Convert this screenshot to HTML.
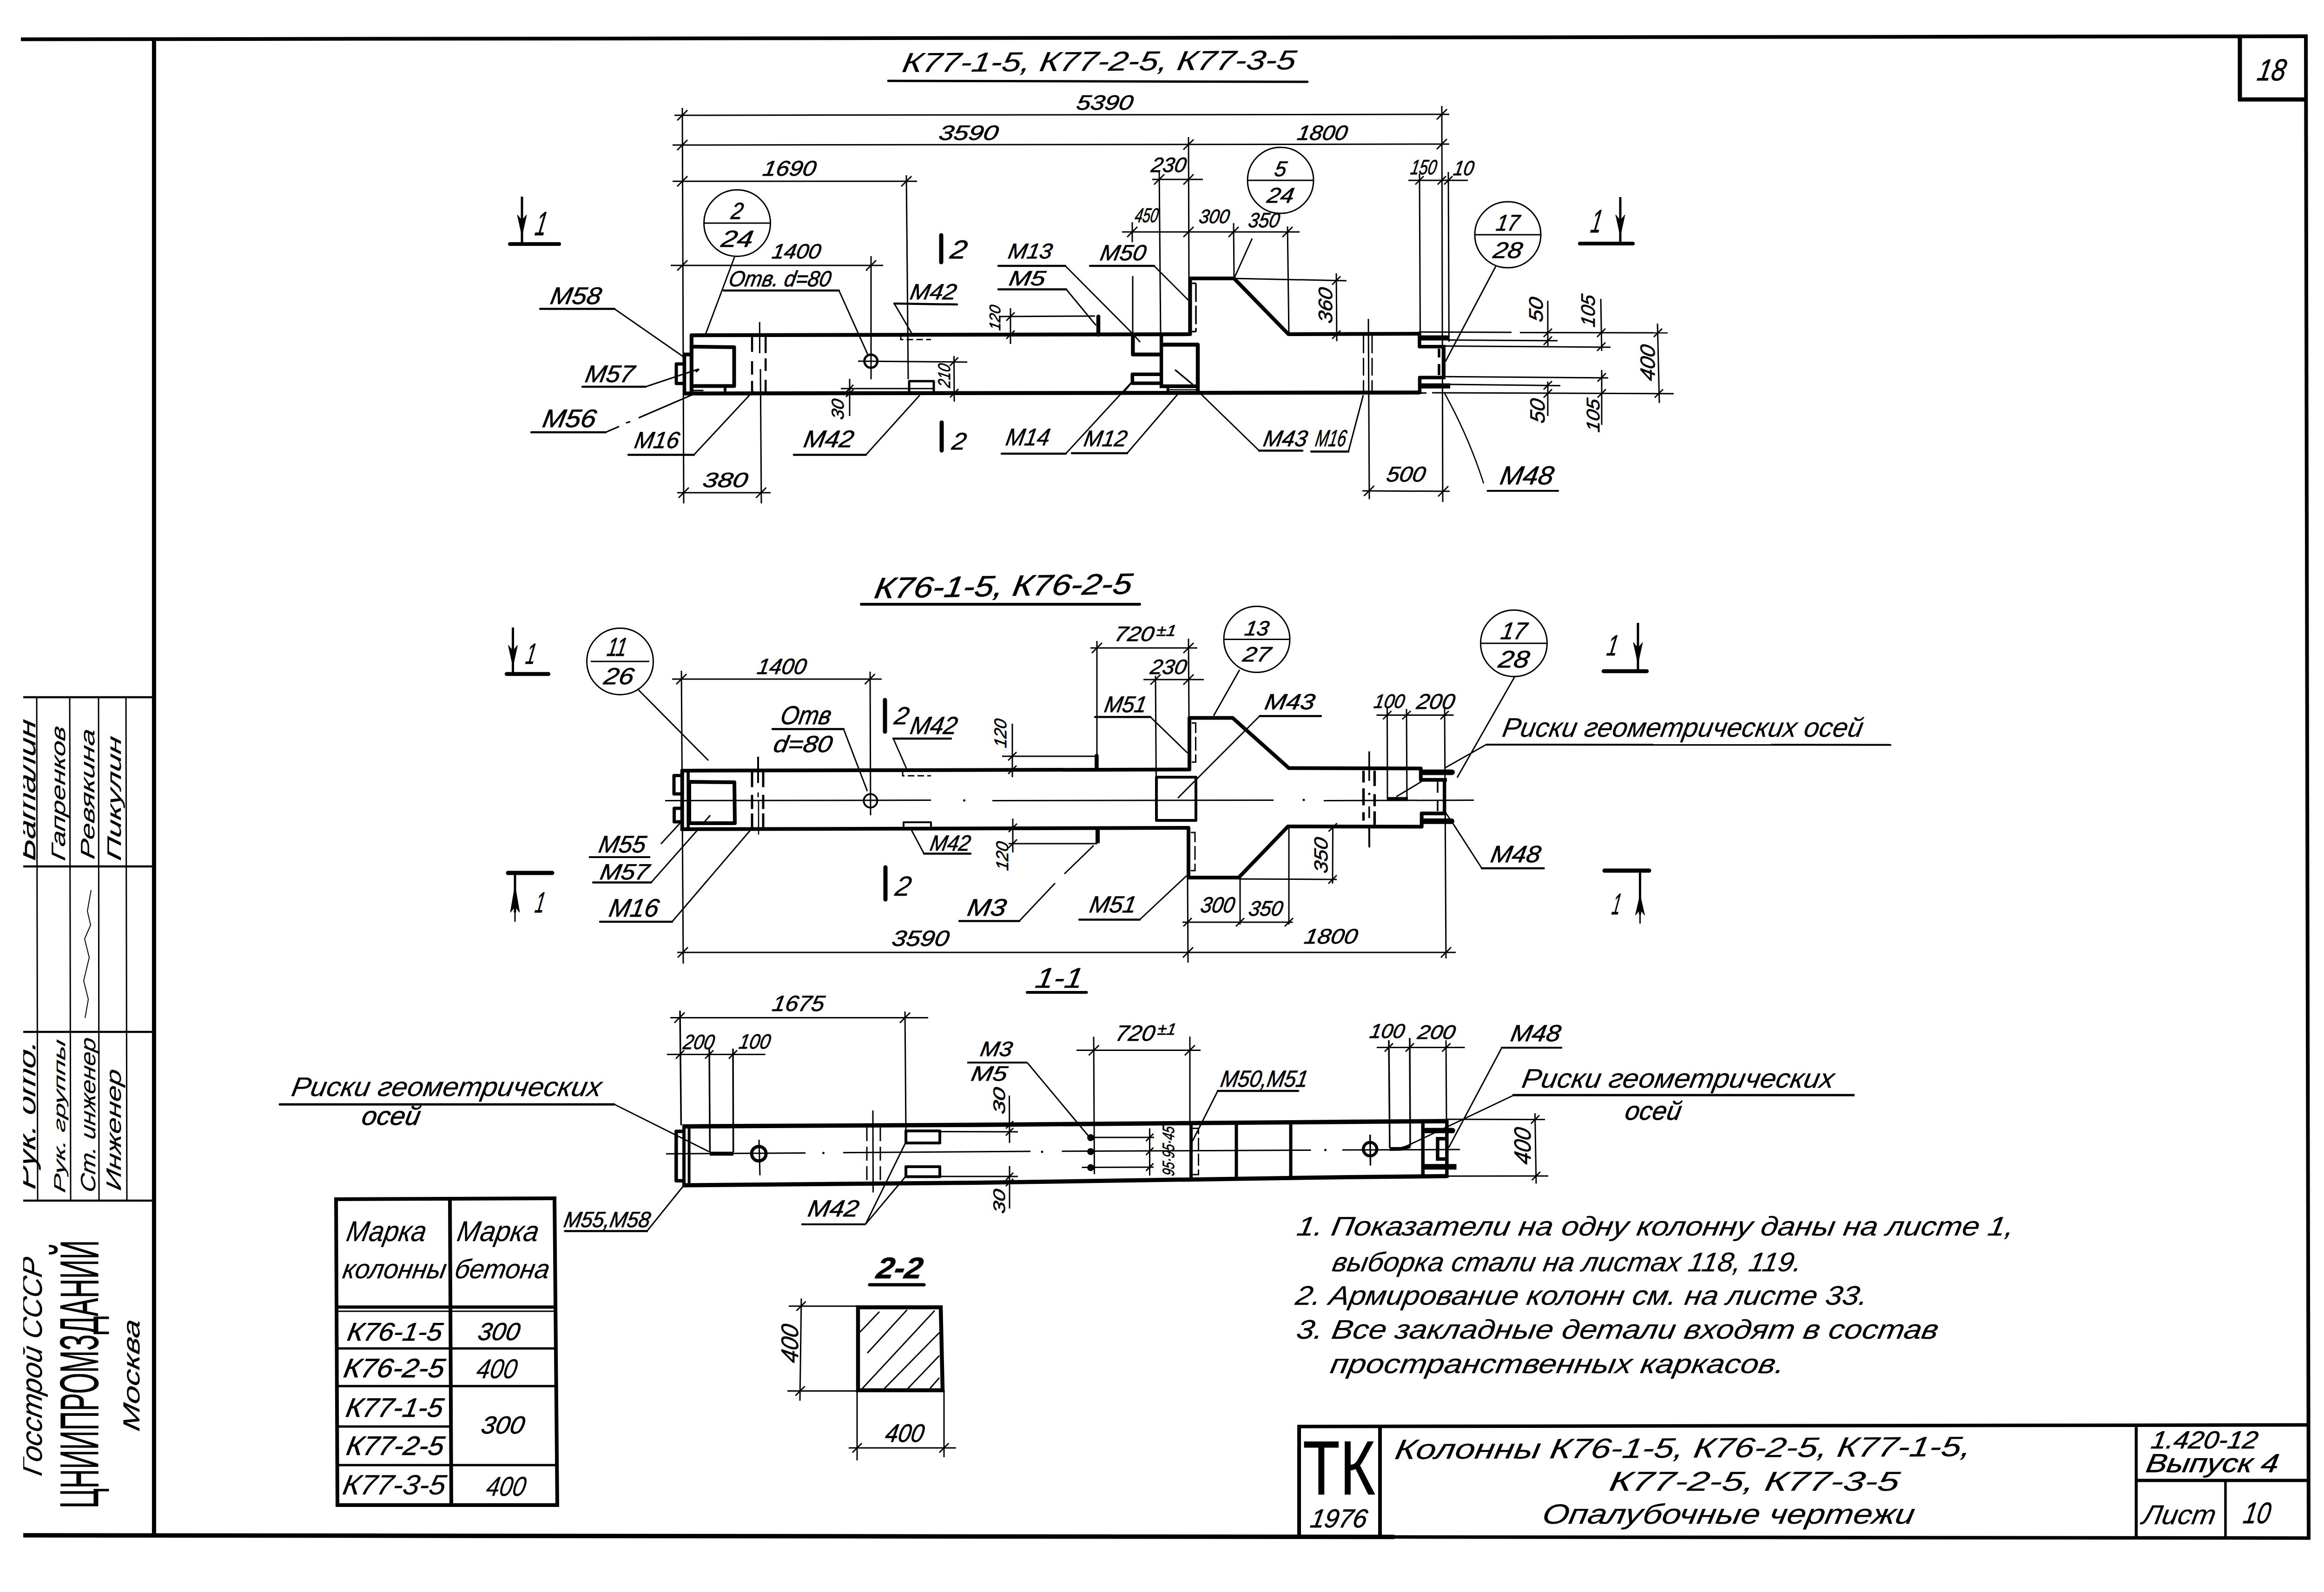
<!DOCTYPE html>
<html><head><meta charset="utf-8"><title>1.420-12 sheet 10</title>
<style>
html,body{margin:0;padding:0;background:#fff;}
body{width:5009px;height:3425px;overflow:hidden;}
svg{display:block;}
svg text{font-family:"Liberation Sans",sans-serif;font-style:italic;fill:#000;stroke:#000;stroke-width:0.8px;}
svg line,svg path,svg circle{stroke:#000;}
</style></head><body>
<svg width="5009" height="3425" viewBox="0 0 5009 3425">
<rect x="0" y="0" width="5009" height="3425" fill="#fff" stroke="none"/>
<line x1="45.0" y1="84.5" x2="4965.0" y2="78.0" stroke-width="8" stroke-linecap="butt"/>
<line x1="331.4" y1="82.0" x2="331.4" y2="3305.0" stroke-width="9" stroke-linecap="butt"/>
<line x1="4961.0" y1="76.0" x2="4967.0" y2="3312.0" stroke-width="8" stroke-linecap="butt"/>
<line x1="50.0" y1="3303.0" x2="3000.0" y2="3306.6" stroke-width="9.5" stroke-linecap="butt"/>
<line x1="2990.0" y1="3306.6" x2="4970.0" y2="3309.0" stroke-width="7.5" stroke-linecap="butt"/>
<line x1="4819.0" y1="78.0" x2="4819.0" y2="216.0" stroke-width="9" stroke-linecap="butt"/>
<line x1="4815.0" y1="214.0" x2="4962.0" y2="214.0" stroke-width="9" stroke-linecap="butt"/>
<text x="0" y="0" font-size="65.6" textLength="60.4" lengthAdjust="spacingAndGlyphs" style="stroke-width:0.80px;" transform="translate(4854.0 172.5) rotate(0) skewX(-10)">18</text>
<line x1="50.0" y1="1500.0" x2="331.0" y2="1500.0" stroke-width="4.5" stroke-linecap="butt"/>
<line x1="50.0" y1="1864.0" x2="331.0" y2="1864.0" stroke-width="4.5" stroke-linecap="butt"/>
<line x1="50.0" y1="2220.0" x2="331.0" y2="2220.0" stroke-width="4.5" stroke-linecap="butt"/>
<line x1="50.0" y1="2583.0" x2="331.0" y2="2583.0" stroke-width="4.5" stroke-linecap="butt"/>
<line x1="79.0" y1="1500.0" x2="81.0" y2="2583.0" stroke-width="3" stroke-linecap="butt"/>
<line x1="150.0" y1="1500.0" x2="152.0" y2="2583.0" stroke-width="3" stroke-linecap="butt"/>
<line x1="212.0" y1="1500.0" x2="213.0" y2="2583.0" stroke-width="3" stroke-linecap="butt"/>
<line x1="271.0" y1="1500.0" x2="273.0" y2="2583.0" stroke-width="3" stroke-linecap="butt"/>
<clipPath id="c0"><rect x="50" y="1400" width="300" height="2000"/></clipPath><g clip-path="url(#c0)">
<text x="0" y="0" font-size="55.9" textLength="303.4" lengthAdjust="spacingAndGlyphs" style="stroke-width:0.30px;" transform="translate(76.0 1853.0) rotate(-90) skewX(-10)">Баталин</text>
<text x="0" y="0" font-size="41.9" textLength="288.8" lengthAdjust="spacingAndGlyphs" style="stroke-width:0.30px;" transform="translate(140.0 1853.0) rotate(-90) skewX(-10)">Гапренков</text>
<text x="0" y="0" font-size="41.9" textLength="279.8" lengthAdjust="spacingAndGlyphs" style="stroke-width:0.30px;" transform="translate(203.0 1850.0) rotate(-90) skewX(-10)">Ревякина</text>
<text x="0" y="0" font-size="41.9" textLength="266.8" lengthAdjust="spacingAndGlyphs" style="stroke-width:0.30px;" transform="translate(260.0 1853.0) rotate(-90) skewX(-10)">Пикулин</text>
<path d="M183.0 2190.0 L190.0 2150.0 L180.0 2110.0 L192.0 2060.0 L182.0 2020.0 L195.0 1990.0 L188.0 1960.0 L196.0 1915.0" fill="none" stroke-width="2" stroke-linejoin="round" stroke-linecap="butt"/>
<text x="0" y="0" font-size="55.9" textLength="319.4" lengthAdjust="spacingAndGlyphs" style="stroke-width:0.30px;" transform="translate(76.0 2560.0) rotate(-90) skewX(-10)">Рук. отд.</text>
<text x="0" y="0" font-size="34.0" textLength="328.6" lengthAdjust="spacingAndGlyphs" style="stroke-width:0.30px;" transform="translate(140.0 2567.0) rotate(-90) skewX(-10)">Рук. группы</text>
<text x="0" y="0" font-size="44.7" textLength="332.5" lengthAdjust="spacingAndGlyphs" style="stroke-width:0.30px;" transform="translate(205.0 2567.0) rotate(-90) skewX(-10)">Ст. инженер</text>
<text x="0" y="0" font-size="44.7" textLength="260.5" lengthAdjust="spacingAndGlyphs" style="stroke-width:0.30px;" transform="translate(260.0 2563.0) rotate(-90) skewX(-10)">Инженер</text>
<text x="0" y="0" font-size="62.0" textLength="467.7" lengthAdjust="spacingAndGlyphs" style="stroke-width:0.30px;" transform="translate(90.0 3177.0) rotate(-90) skewX(-10)">Госстрой СССР</text>
</g>
<text x="0" y="0" font-size="117.3" textLength="577.0" lengthAdjust="spacingAndGlyphs" style="stroke-width:0.80px;font-style:normal;" transform="translate(211.0 3245.0) rotate(-90) skewX(0)">ЦНИИПРОМЗДАНИЙ</text>
<text x="0" y="0" font-size="50.0" textLength="239.9" lengthAdjust="spacingAndGlyphs" style="stroke-width:0.30px;" transform="translate(300.0 3081.0) rotate(-90) skewX(-10)">Москва</text>
<line x1="2791.0" y1="3069.0" x2="4967.0" y2="3065.5" stroke-width="7.5" stroke-linecap="butt"/>
<line x1="2795.0" y1="3066.0" x2="2795.0" y2="3306.0" stroke-width="8" stroke-linecap="butt"/>
<line x1="2969.0" y1="3068.0" x2="2969.0" y2="3306.0" stroke-width="8" stroke-linecap="butt"/>
<line x1="4596.0" y1="3066.0" x2="4596.0" y2="3309.0" stroke-width="6.5" stroke-linecap="butt"/>
<line x1="4596.0" y1="3185.0" x2="4967.0" y2="3185.0" stroke-width="7" stroke-linecap="butt"/>
<line x1="4788.0" y1="3185.0" x2="4788.0" y2="3309.0" stroke-width="5.5" stroke-linecap="butt"/>
<text x="0" y="0" font-size="164.8" textLength="156.0" lengthAdjust="spacingAndGlyphs" style="stroke-width:0.80px;font-style:normal;" transform="translate(2803.0 3215.0) rotate(0) skewX(0)">ТК</text>
<text x="0" y="0" font-size="55.9" textLength="121.4" lengthAdjust="spacingAndGlyphs" style="stroke-width:0.80px;" transform="translate(2817.0 3286.0) rotate(0) skewX(-10)">1976</text>
<text x="0" y="0" font-size="60.0" textLength="1238.9" lengthAdjust="spacingAndGlyphs" style="stroke-width:0.30px;" transform="translate(2999.0 3139.0) rotate(-0.3) skewX(-10)">Колонны К76-1-5, К76-2-5, К77-1-5,</text>
<text x="0" y="0" font-size="58.7" textLength="623.1" lengthAdjust="spacingAndGlyphs" style="stroke-width:0.30px;" transform="translate(3460.0 3207.0) rotate(0) skewX(-10)">К77-2-5, К77-3-5</text>
<text x="0" y="0" font-size="60.0" textLength="799.9" lengthAdjust="spacingAndGlyphs" style="stroke-width:0.30px;" transform="translate(3316.0 3278.0) rotate(0) skewX(-10)">Опалубочные чертежи</text>
<text x="0" y="0" font-size="53.1" textLength="228.6" lengthAdjust="spacingAndGlyphs" style="stroke-width:0.80px;" transform="translate(4626.0 3116.0) rotate(0) skewX(-10)">1.420-12</text>
<text x="0" y="0" font-size="55.9" textLength="284.4" lengthAdjust="spacingAndGlyphs" style="stroke-width:0.80px;" transform="translate(4615.0 3167.0) rotate(0) skewX(-10)">Выпуск 4</text>
<text x="0" y="0" font-size="58.7" textLength="157.1" lengthAdjust="spacingAndGlyphs" style="stroke-width:0.30px;" transform="translate(4607.0 3279.0) rotate(0) skewX(-10)">Лист</text>
<text x="0" y="0" font-size="64.2" textLength="57.5" lengthAdjust="spacingAndGlyphs" style="stroke-width:0.80px;" transform="translate(4824.0 3277.0) rotate(0) skewX(-10)">10</text>
<line x1="723.0" y1="2576.0" x2="726.0" y2="3242.0" stroke-width="8" stroke-linecap="butt"/>
<line x1="968.0" y1="2580.0" x2="971.0" y2="3240.0" stroke-width="8" stroke-linecap="butt"/>
<line x1="1193.0" y1="2576.0" x2="1199.0" y2="3242.0" stroke-width="8" stroke-linecap="butt"/>
<line x1="719.0" y1="2580.0" x2="1197.0" y2="2578.0" stroke-width="8" stroke-linecap="butt"/>
<line x1="722.0" y1="3238.0" x2="1203.0" y2="3238.0" stroke-width="8" stroke-linecap="butt"/>
<line x1="722.0" y1="2812.0" x2="1197.0" y2="2812.0" stroke-width="7" stroke-linecap="butt"/>
<line x1="722.0" y1="2821.0" x2="1197.0" y2="2821.0" stroke-width="3" stroke-linecap="butt"/>
<line x1="724.0" y1="2901.0" x2="1197.0" y2="2901.0" stroke-width="5" stroke-linecap="butt"/>
<line x1="724.0" y1="2982.0" x2="1198.0" y2="2982.0" stroke-width="5" stroke-linecap="butt"/>
<line x1="724.0" y1="3069.0" x2="970.0" y2="3069.0" stroke-width="5" stroke-linecap="butt"/>
<line x1="724.0" y1="3152.0" x2="1199.0" y2="3152.0" stroke-width="5" stroke-linecap="butt"/>
<text x="0" y="0" font-size="61.5" textLength="170.8" lengthAdjust="spacingAndGlyphs" style="stroke-width:0.30px;" transform="translate(743.0 2670.0) rotate(0) skewX(-10)">Марка</text>
<text x="0" y="0" font-size="58.0" textLength="222.1" lengthAdjust="spacingAndGlyphs" style="stroke-width:0.30px;" transform="translate(735.0 2750.0) rotate(0) skewX(-10)">колонны</text>
<text x="0" y="0" font-size="61.5" textLength="174.8" lengthAdjust="spacingAndGlyphs" style="stroke-width:0.30px;" transform="translate(981.0 2670.0) rotate(0) skewX(-10)">Марка</text>
<text x="0" y="0" font-size="58.0" textLength="203.1" lengthAdjust="spacingAndGlyphs" style="stroke-width:0.30px;" transform="translate(976.0 2750.0) rotate(0) skewX(-10)">бетона</text>
<text x="0" y="0" font-size="54.5" textLength="203.5" lengthAdjust="spacingAndGlyphs" style="stroke-width:0.80px;" transform="translate(745.0 2884.0) rotate(0) skewX(-10)">К76-1-5</text>
<text x="0" y="0" font-size="53.1" textLength="89.6" lengthAdjust="spacingAndGlyphs" style="stroke-width:0.80px;" transform="translate(1026.0 2883.0) rotate(0) skewX(-10)">300</text>
<text x="0" y="0" font-size="57.3" textLength="216.2" lengthAdjust="spacingAndGlyphs" style="stroke-width:0.80px;" transform="translate(737.0 2963.0) rotate(0) skewX(-10)">К76-2-5</text>
<text x="0" y="0" font-size="58.7" textLength="86.1" lengthAdjust="spacingAndGlyphs" style="stroke-width:0.30px;" transform="translate(1023.0 2965.0) rotate(0) skewX(-10)">400</text>
<text x="0" y="0" font-size="57.3" textLength="208.2" lengthAdjust="spacingAndGlyphs" style="stroke-width:0.80px;" transform="translate(742.0 3048.0) rotate(0) skewX(-10)">К77-1-5</text>
<text x="0" y="0" font-size="53.1" textLength="92.6" lengthAdjust="spacingAndGlyphs" style="stroke-width:0.80px;" transform="translate(1033.0 3084.0) rotate(0) skewX(-10)">300</text>
<text x="0" y="0" font-size="57.3" textLength="209.2" lengthAdjust="spacingAndGlyphs" style="stroke-width:0.80px;" transform="translate(743.0 3130.0) rotate(0) skewX(-10)">К77-2-5</text>
<text x="0" y="0" font-size="60.1" textLength="220.9" lengthAdjust="spacingAndGlyphs" style="stroke-width:0.30px;" transform="translate(735.0 3215.0) rotate(0) skewX(-10)">К77-3-5</text>
<text x="0" y="0" font-size="58.7" textLength="84.1" lengthAdjust="spacingAndGlyphs" style="stroke-width:0.30px;" transform="translate(1044.0 3218.0) rotate(0) skewX(-10)">400</text>
<text x="0" y="0" font-size="58.0" textLength="1542.1" lengthAdjust="spacingAndGlyphs" style="stroke-width:0.30px;" transform="translate(2788.0 2657.5) rotate(0) skewX(-10)">1. Показатели на одну колонну даны на листе 1,</text>
<text x="0" y="0" font-size="58.0" textLength="1009.1" lengthAdjust="spacingAndGlyphs" style="stroke-width:0.30px;" transform="translate(2864.0 2735.0) rotate(0) skewX(-10)">выборка стали на листах 118, 119.</text>
<text x="0" y="0" font-size="58.0" textLength="1230.1" lengthAdjust="spacingAndGlyphs" style="stroke-width:0.30px;" transform="translate(2785.0 2807.0) rotate(0) skewX(-10)">2. Армирование колонн см. на листе 33.</text>
<text x="0" y="0" font-size="58.0" textLength="1380.1" lengthAdjust="spacingAndGlyphs" style="stroke-width:0.30px;" transform="translate(2787.0 2880.0) rotate(0) skewX(-10)">3. Все закладные детали входят в состав</text>
<text x="0" y="0" font-size="58.0" textLength="976.1" lengthAdjust="spacingAndGlyphs" style="stroke-width:0.30px;" transform="translate(2860.0 2954.0) rotate(0) skewX(-10)">пространственных каркасов.</text>
<text x="0" y="0" font-size="58.7" textLength="846.1" lengthAdjust="spacingAndGlyphs" style="stroke-width:0.30px;" transform="translate(1939.0 155.0) rotate(-0.4) skewX(-10)">К77-1-5, К77-2-5, К77-3-5</text>
<line x1="1911.0" y1="174.0" x2="2813.0" y2="176.0" stroke-width="5" stroke-linecap="round"/>
<line x1="1451.0" y1="248.0" x2="3118.0" y2="246.0" stroke-width="3" stroke-linecap="butt"/>
<text x="0" y="0" font-size="44.7" textLength="121.5" lengthAdjust="spacingAndGlyphs" style="stroke-width:0.80px;" transform="translate(2314.0 236.0) rotate(0) skewX(-10)">5390</text>
<line x1="1447.0" y1="312.0" x2="3118.0" y2="310.0" stroke-width="3" stroke-linecap="butt"/>
<text x="0" y="0" font-size="44.7" textLength="127.5" lengthAdjust="spacingAndGlyphs" style="stroke-width:0.80px;" transform="translate(2018.0 301.0) rotate(0) skewX(-10)">3590</text>
<text x="0" y="0" font-size="44.7" textLength="107.5" lengthAdjust="spacingAndGlyphs" style="stroke-width:0.80px;" transform="translate(2789.0 301.0) rotate(0) skewX(-10)">1800</text>
<line x1="1447.0" y1="390.0" x2="1973.0" y2="390.0" stroke-width="3" stroke-linecap="butt"/>
<text x="0" y="0" font-size="46.1" textLength="114.3" lengthAdjust="spacingAndGlyphs" style="stroke-width:0.80px;" transform="translate(1639.0 378.0) rotate(0) skewX(-10)">1690</text>
<line x1="1443.0" y1="571.0" x2="1900.0" y2="571.0" stroke-width="3" stroke-linecap="butt"/>
<text x="0" y="0" font-size="44.7" textLength="104.5" lengthAdjust="spacingAndGlyphs" style="stroke-width:0.80px;" transform="translate(1659.0 556.0) rotate(0) skewX(-10)">1400</text>
<line x1="1457.0" y1="259.0" x2="1479.0" y2="237.0" stroke-width="3" stroke-linecap="butt"/>
<line x1="3091.0" y1="257.0" x2="3113.0" y2="235.0" stroke-width="3" stroke-linecap="butt"/>
<line x1="1457.0" y1="323.0" x2="1479.0" y2="301.0" stroke-width="3" stroke-linecap="butt"/>
<line x1="2546.0" y1="322.0" x2="2568.0" y2="300.0" stroke-width="3" stroke-linecap="butt"/>
<line x1="3091.0" y1="321.0" x2="3113.0" y2="299.0" stroke-width="3" stroke-linecap="butt"/>
<line x1="1457.0" y1="401.0" x2="1479.0" y2="379.0" stroke-width="3" stroke-linecap="butt"/>
<line x1="1939.0" y1="401.0" x2="1961.0" y2="379.0" stroke-width="3" stroke-linecap="butt"/>
<line x1="1457.0" y1="582.0" x2="1479.0" y2="560.0" stroke-width="3" stroke-linecap="butt"/>
<line x1="1863.0" y1="582.0" x2="1885.0" y2="560.0" stroke-width="3" stroke-linecap="butt"/>
<line x1="1468.0" y1="232.0" x2="1471.0" y2="1083.0" stroke-width="3" stroke-linecap="butt"/>
<line x1="3102.0" y1="228.0" x2="3104.0" y2="1080.0" stroke-width="3" stroke-linecap="butt"/>
<line x1="1950.0" y1="377.0" x2="1954.0" y2="816.0" stroke-width="3" stroke-linecap="butt"/>
<line x1="1874.0" y1="551.0" x2="1874.0" y2="816.0" stroke-width="3" stroke-linecap="butt"/>
<line x1="2557.0" y1="295.0" x2="2558.0" y2="600.0" stroke-width="3" stroke-linecap="butt"/>
<line x1="2479.0" y1="386.0" x2="2588.0" y2="386.0" stroke-width="3" stroke-linecap="butt"/>
<text x="0" y="0" font-size="44.7" textLength="74.5" lengthAdjust="spacingAndGlyphs" style="stroke-width:0.80px;" transform="translate(2475.0 370.0) rotate(0) skewX(-10)">230</text>
<line x1="2483.0" y1="397.0" x2="2505.0" y2="375.0" stroke-width="3" stroke-linecap="butt"/>
<line x1="2546.0" y1="397.0" x2="2568.0" y2="375.0" stroke-width="3" stroke-linecap="butt"/>
<line x1="2494.0" y1="370.0" x2="2497.0" y2="720.0" stroke-width="3" stroke-linecap="butt"/>
<line x1="2414.0" y1="499.0" x2="2796.0" y2="499.0" stroke-width="3" stroke-linecap="butt"/>
<text x="0" y="0" font-size="43.3" textLength="49.6" lengthAdjust="spacingAndGlyphs" style="stroke-width:0.80px;" transform="translate(2440.0 478.0) rotate(0) skewX(-10)">450</text>
<text x="0" y="0" font-size="41.9" textLength="64.8" lengthAdjust="spacingAndGlyphs" style="stroke-width:0.80px;" transform="translate(2578.0 480.0) rotate(0) skewX(-10)">300</text>
<text x="0" y="0" font-size="44.7" textLength="66.5" lengthAdjust="spacingAndGlyphs" style="stroke-width:0.80px;" transform="translate(2684.0 489.0) rotate(0) skewX(-10)">350</text>
<line x1="2425.0" y1="510.0" x2="2447.0" y2="488.0" stroke-width="3" stroke-linecap="butt"/>
<line x1="2546.0" y1="510.0" x2="2568.0" y2="488.0" stroke-width="3" stroke-linecap="butt"/>
<line x1="2643.0" y1="510.0" x2="2665.0" y2="488.0" stroke-width="3" stroke-linecap="butt"/>
<line x1="2759.0" y1="510.0" x2="2781.0" y2="488.0" stroke-width="3" stroke-linecap="butt"/>
<line x1="2436.0" y1="478.0" x2="2436.0" y2="521.0" stroke-width="3" stroke-linecap="butt"/>
<line x1="2437.0" y1="594.0" x2="2437.0" y2="720.0" stroke-width="3" stroke-linecap="butt"/>
<line x1="2654.0" y1="480.0" x2="2655.0" y2="597.0" stroke-width="3" stroke-linecap="butt"/>
<line x1="2770.0" y1="487.0" x2="2773.0" y2="720.0" stroke-width="3" stroke-linecap="butt"/>
<line x1="3030.0" y1="388.0" x2="3158.0" y2="388.0" stroke-width="3" stroke-linecap="butt"/>
<text x="0" y="0" font-size="44.7" textLength="55.5" lengthAdjust="spacingAndGlyphs" style="stroke-width:0.80px;" transform="translate(3033.0 375.0) rotate(0) skewX(-10)">150</text>
<text x="0" y="0" font-size="44.7" textLength="43.5" lengthAdjust="spacingAndGlyphs" style="stroke-width:0.80px;" transform="translate(3125.0 377.0) rotate(0) skewX(-10)">10</text>
<line x1="3045.0" y1="397.0" x2="3063.0" y2="379.0" stroke-width="3" stroke-linecap="butt"/>
<line x1="3093.0" y1="397.0" x2="3111.0" y2="379.0" stroke-width="3" stroke-linecap="butt"/>
<line x1="3107.0" y1="397.0" x2="3125.0" y2="379.0" stroke-width="3" stroke-linecap="butt"/>
<line x1="3054.0" y1="374.0" x2="3055.5" y2="714.0" stroke-width="3" stroke-linecap="butt"/>
<line x1="3116.0" y1="370.0" x2="3117.4" y2="735.0" stroke-width="3" stroke-linecap="butt"/>
<circle cx="1586.0" cy="480.0" r="71.5" fill="none" stroke-width="3"/>
<line x1="1514.5" y1="480.0" x2="1657.5" y2="480.0" stroke-width="3" stroke-linecap="butt"/>
<text x="0" y="0" font-size="50.3" textLength="24.9" lengthAdjust="spacingAndGlyphs" style="stroke-width:0.80px;" transform="translate(1571.0 471.0) rotate(0) skewX(-10)">2</text>
<text x="0" y="0" font-size="50.3" textLength="67.9" lengthAdjust="spacingAndGlyphs" style="stroke-width:0.80px;" transform="translate(1549.5 531.0) rotate(0) skewX(-10)">24</text>
<line x1="1581.0" y1="551.0" x2="1518.0" y2="719.0" stroke-width="3" stroke-linecap="butt"/>
<circle cx="2755.0" cy="388.0" r="71.0" fill="none" stroke-width="3"/>
<line x1="2684.0" y1="388.0" x2="2826.0" y2="388.0" stroke-width="3" stroke-linecap="butt"/>
<text x="0" y="0" font-size="46.1" textLength="25.3" lengthAdjust="spacingAndGlyphs" style="stroke-width:0.80px;" transform="translate(2740.0 379.0) rotate(0) skewX(-10)">5</text>
<text x="0" y="0" font-size="46.1" textLength="57.3" lengthAdjust="spacingAndGlyphs" style="stroke-width:0.80px;" transform="translate(2724.0 436.0) rotate(0) skewX(-10)">24</text>
<line x1="2694.0" y1="513.0" x2="2656.0" y2="597.0" stroke-width="3" stroke-linecap="butt"/>
<circle cx="3244.0" cy="505.0" r="71.0" fill="none" stroke-width="3"/>
<line x1="3173.0" y1="505.0" x2="3315.0" y2="505.0" stroke-width="3" stroke-linecap="butt"/>
<text x="0" y="0" font-size="48.9" textLength="49.1" lengthAdjust="spacingAndGlyphs" style="stroke-width:0.80px;" transform="translate(3217.0 496.0) rotate(0) skewX(-10)">17</text>
<text x="0" y="0" font-size="48.9" textLength="62.1" lengthAdjust="spacingAndGlyphs" style="stroke-width:0.80px;" transform="translate(3210.5 555.0) rotate(0) skewX(-10)">28</text>
<line x1="3218.0" y1="573.0" x2="3109.7" y2="778.0" stroke-width="3" stroke-linecap="butt"/>
<text x="0" y="0" font-size="47.5" textLength="219.2" lengthAdjust="spacingAndGlyphs" style="stroke-width:0.80px;" transform="translate(1566.0 616.0) rotate(0) skewX(-10)">Отв. d=80</text>
<line x1="1557.0" y1="625.0" x2="1805.0" y2="625.0" stroke-width="4.5" stroke-linecap="round"/>
<path d="M1805.0 625.0 L1868.0 765.0" fill="none" stroke-width="3" stroke-linejoin="miter" stroke-linecap="butt"/>
<line x1="2025.0" y1="506.0" x2="2025.0" y2="564.0" stroke-width="9" stroke-linecap="round"/>
<text x="0" y="0" font-size="55.9" textLength="35.4" lengthAdjust="spacingAndGlyphs" style="stroke-width:0.80px;" transform="translate(2042.0 556.0) rotate(0) skewX(-10)">2</text>
<line x1="2026.0" y1="909.0" x2="2026.0" y2="969.0" stroke-width="9" stroke-linecap="round"/>
<text x="0" y="0" font-size="51.7" textLength="29.8" lengthAdjust="spacingAndGlyphs" style="stroke-width:0.80px;" transform="translate(2046.0 967.0) rotate(0) skewX(-10)">2</text>
<line x1="1123.0" y1="423.0" x2="1123.0" y2="522.0" stroke-width="5" stroke-linecap="butt"/>
<path d="M1113.0 462.0 L1123.0 474.0 L1133.0 462.0 L1123.0 508.0 Z" fill="#000" stroke="none"/>
<line x1="1097.0" y1="525.0" x2="1203.0" y2="525.0" stroke-width="8" stroke-linecap="round"/>
<text x="0" y="0" font-size="72.6" textLength="23.7" lengthAdjust="spacingAndGlyphs" style="stroke-width:0.80px;" transform="translate(1149.0 506.0) rotate(0) skewX(-10)">1</text>
<line x1="3486.0" y1="424.0" x2="3486.0" y2="522.0" stroke-width="5" stroke-linecap="butt"/>
<path d="M3476.0 462.0 L3486.0 474.0 L3496.0 462.0 L3486.0 508.0 Z" fill="#000" stroke="none"/>
<line x1="3399.0" y1="524.0" x2="3513.0" y2="524.0" stroke-width="8" stroke-linecap="round"/>
<text x="0" y="0" font-size="69.8" textLength="22.9" lengthAdjust="spacingAndGlyphs" style="stroke-width:0.80px;" transform="translate(3420.0 500.0) rotate(0) skewX(-10)">1</text>
<text x="0" y="0" font-size="46.1" textLength="94.3" lengthAdjust="spacingAndGlyphs" style="stroke-width:0.80px;" transform="translate(2167.0 556.0) rotate(0) skewX(-10)">М13</text>
<text x="0" y="0" font-size="44.7" textLength="77.5" lengthAdjust="spacingAndGlyphs" style="stroke-width:0.80px;" transform="translate(2169.0 614.0) rotate(0) skewX(-10)">М5</text>
<line x1="2148.0" y1="572.0" x2="2292.0" y2="572.0" stroke-width="4.5" stroke-linecap="round"/>
<path d="M2292.0 572.0 L2435.0 716.0 L2453.0 736.0" fill="none" stroke-width="3" stroke-linejoin="miter" stroke-linecap="butt"/>
<line x1="2148.0" y1="622.5" x2="2294.0" y2="622.5" stroke-width="4.5" stroke-linecap="round"/>
<path d="M2294.0 622.5 L2358.0 700.0" fill="none" stroke-width="3" stroke-linejoin="miter" stroke-linecap="butt"/>
<line x1="2363.0" y1="681.0" x2="2363.0" y2="720.0" stroke-width="8.5" stroke-linecap="round"/>
<text x="0" y="0" font-size="47.5" textLength="99.2" lengthAdjust="spacingAndGlyphs" style="stroke-width:0.80px;" transform="translate(1956.0 644.0) rotate(0) skewX(-10)">М42</text>
<line x1="2059.0" y1="655.0" x2="1924.0" y2="653.0" stroke-width="4.5" stroke-linecap="round"/>
<path d="M1924.0 653.0 L1962.0 718.0" fill="none" stroke-width="3" stroke-linejoin="miter" stroke-linecap="butt"/>
<line x1="2174.0" y1="663.0" x2="2174.0" y2="740.0" stroke-width="3" stroke-linecap="butt"/>
<line x1="2151.0" y1="681.0" x2="2356.0" y2="680.0" stroke-width="3" stroke-linecap="butt"/>
<line x1="2165.0" y1="690.0" x2="2183.0" y2="672.0" stroke-width="3" stroke-linecap="butt"/>
<line x1="2165.0" y1="729.0" x2="2183.0" y2="711.0" stroke-width="3" stroke-linecap="butt"/>
<text x="0" y="0" font-size="33.2" textLength="53.6" lengthAdjust="spacingAndGlyphs" style="stroke-width:0.80px;" transform="translate(2152.0 712.0) rotate(-90) skewX(-10)">120</text>
<text x="0" y="0" font-size="47.5" textLength="98.2" lengthAdjust="spacingAndGlyphs" style="stroke-width:0.80px;" transform="translate(2365.0 560.0) rotate(0) skewX(-10)">М50</text>
<line x1="2345.0" y1="572.0" x2="2483.0" y2="572.0" stroke-width="4.5" stroke-linecap="round"/>
<path d="M2483.0 572.0 L2557.0 646.0" fill="none" stroke-width="3" stroke-linejoin="miter" stroke-linecap="butt"/>
<text x="0" y="0" font-size="51.7" textLength="108.8" lengthAdjust="spacingAndGlyphs" style="stroke-width:0.80px;" transform="translate(1182.0 654.0) rotate(0) skewX(-10)">М58</text>
<line x1="1162.0" y1="664.5" x2="1322.0" y2="664.5" stroke-width="4.5" stroke-linecap="round"/>
<path d="M1322.0 664.5 L1471.0 768.0" fill="none" stroke-width="3" stroke-linejoin="miter" stroke-linecap="butt"/>
<text x="0" y="0" font-size="51.7" textLength="104.8" lengthAdjust="spacingAndGlyphs" style="stroke-width:0.80px;" transform="translate(1257.0 822.0) rotate(0) skewX(-10)">М57</text>
<line x1="1253.0" y1="832.0" x2="1389.0" y2="832.0" stroke-width="4.5" stroke-linecap="round"/>
<path d="M1389.0 832.0 L1503.0 794.0" fill="none" stroke-width="3" stroke-linejoin="miter" stroke-linecap="butt"/>
<text x="0" y="0" font-size="54.5" textLength="114.5" lengthAdjust="spacingAndGlyphs" style="stroke-width:0.80px;" transform="translate(1165.0 919.0) rotate(0) skewX(-10)">М56</text>
<line x1="1143.0" y1="930.0" x2="1303.0" y2="930.0" stroke-width="4.5" stroke-linecap="round"/>
<path d="M1303.0 930.0 L1332.0 917.5" fill="none" stroke-width="3" stroke-linejoin="miter" stroke-linecap="butt"/>
<line x1="1347.0" y1="910.0" x2="1356.0" y2="907.0" stroke-width="3" stroke-linecap="butt"/>
<line x1="1374.0" y1="899.0" x2="1490.0" y2="849.0" stroke-width="3" stroke-linecap="butt"/>
<text x="0" y="0" font-size="50.3" textLength="95.9" lengthAdjust="spacingAndGlyphs" style="stroke-width:0.80px;" transform="translate(1363.0 964.0) rotate(0) skewX(-10)">М16</text>
<line x1="1352.0" y1="978.5" x2="1493.0" y2="978.5" stroke-width="4.5" stroke-linecap="round"/>
<path d="M1493.0 978.5 L1621.0 841.0" fill="none" stroke-width="3" stroke-linejoin="miter" stroke-linecap="butt"/>
<line x1="1457.0" y1="1060.0" x2="1658.0" y2="1060.0" stroke-width="3" stroke-linecap="butt"/>
<text x="0" y="0" font-size="44.7" textLength="96.5" lengthAdjust="spacingAndGlyphs" style="stroke-width:0.80px;" transform="translate(1510.0 1048.0) rotate(0) skewX(-10)">380</text>
<line x1="1460.0" y1="1071.0" x2="1482.0" y2="1049.0" stroke-width="3" stroke-linecap="butt"/>
<line x1="1626.5" y1="1071.0" x2="1648.5" y2="1049.0" stroke-width="3" stroke-linecap="butt"/>
<line x1="1636.0" y1="794.0" x2="1638.0" y2="1083.0" stroke-width="3" stroke-linecap="butt"/>
<text x="0" y="0" font-size="51.7" textLength="106.8" lengthAdjust="spacingAndGlyphs" style="stroke-width:0.80px;" transform="translate(1727.0 962.0) rotate(0) skewX(-10)">М42</text>
<line x1="1708.0" y1="978.5" x2="1863.0" y2="978.5" stroke-width="4.5" stroke-linecap="round"/>
<path d="M1863.0 978.5 L1979.0 850.0" fill="none" stroke-width="3" stroke-linejoin="miter" stroke-linecap="butt"/>
<text x="0" y="0" font-size="51.7" textLength="93.8" lengthAdjust="spacingAndGlyphs" style="stroke-width:0.80px;" transform="translate(2162.0 958.0) rotate(0) skewX(-10)">М14</text>
<line x1="2155.0" y1="976.0" x2="2293.0" y2="976.0" stroke-width="4.5" stroke-linecap="round"/>
<path d="M2293.0 976.0 L2433.0 824.0" fill="none" stroke-width="3" stroke-linejoin="miter" stroke-linecap="butt"/>
<text x="0" y="0" font-size="48.9" textLength="92.1" lengthAdjust="spacingAndGlyphs" style="stroke-width:0.80px;" transform="translate(2330.0 960.0) rotate(0) skewX(-10)">М12</text>
<line x1="2306.0" y1="975.0" x2="2425.0" y2="975.0" stroke-width="4.5" stroke-linecap="round"/>
<path d="M2425.0 975.0 L2534.0 848.0" fill="none" stroke-width="3" stroke-linejoin="miter" stroke-linecap="butt"/>
<text x="0" y="0" font-size="48.9" textLength="94.1" lengthAdjust="spacingAndGlyphs" style="stroke-width:0.80px;" transform="translate(2716.0 960.0) rotate(0) skewX(-10)">М43</text>
<line x1="2802.0" y1="969.5" x2="2709.0" y2="969.5" stroke-width="4.5" stroke-linecap="round"/>
<path d="M2709.0 969.5 L2584.0 848.0" fill="none" stroke-width="3" stroke-linejoin="miter" stroke-linecap="butt"/>
<text x="0" y="0" font-size="50.3" textLength="65.9" lengthAdjust="spacingAndGlyphs" style="stroke-width:0.80px;" transform="translate(2828.0 960.0) rotate(0) skewX(-10)">М16</text>
<line x1="2821.0" y1="971.5" x2="2901.0" y2="971.5" stroke-width="4.5" stroke-linecap="round"/>
<path d="M2901.0 971.5 L2933.0 850.0" fill="none" stroke-width="3" stroke-linejoin="miter" stroke-linecap="butt"/>
<line x1="2931.0" y1="1056.0" x2="3119.0" y2="1057.0" stroke-width="3" stroke-linecap="butt"/>
<text x="0" y="0" font-size="46.1" textLength="83.3" lengthAdjust="spacingAndGlyphs" style="stroke-width:0.80px;" transform="translate(2981.0 1036.0) rotate(0) skewX(-10)">500</text>
<line x1="2934.5" y1="1067.0" x2="2956.5" y2="1045.0" stroke-width="3" stroke-linecap="butt"/>
<line x1="3094.0" y1="1068.0" x2="3116.0" y2="1046.0" stroke-width="3" stroke-linecap="butt"/>
<line x1="2944.0" y1="686.0" x2="2946.0" y2="1074.0" stroke-width="3" stroke-linecap="butt"/>
<text x="0" y="0" font-size="55.9" textLength="114.4" lengthAdjust="spacingAndGlyphs" style="stroke-width:0.80px;" transform="translate(3225.0 1041.5) rotate(0) skewX(-10)">М48</text>
<line x1="3199.0" y1="1056.0" x2="3354.0" y2="1056.0" stroke-width="4" stroke-linecap="butt"/>
<path d="M3192 1040 Q3160 940 3108 846" fill="none" stroke-width="2.6"/>
<line x1="2655.0" y1="599.0" x2="2897.0" y2="604.0" stroke-width="3" stroke-linecap="butt"/>
<line x1="2875.0" y1="588.0" x2="2876.0" y2="734.0" stroke-width="3" stroke-linecap="butt"/>
<line x1="2866.0" y1="612.5" x2="2884.0" y2="594.5" stroke-width="3" stroke-linecap="butt"/>
<line x1="2866.0" y1="729.0" x2="2884.0" y2="711.0" stroke-width="3" stroke-linecap="butt"/>
<text x="0" y="0" font-size="41.8" textLength="75.8" lengthAdjust="spacingAndGlyphs" style="stroke-width:0.80px;" transform="translate(2866.0 697.0) rotate(-90) skewX(-10)">360</text>
<path d="M1487.8 848.0 L1487.8 721.3 L2560.4 719.0 L2560.4 599.0 L2655.0 599.0 L2772.0 719.0 L3056.0 718.0" fill="none" stroke-width="8.2" stroke-linejoin="round" stroke-linecap="butt"/>
<line x1="1470.0" y1="846.5" x2="3054.0" y2="844.5" stroke-width="8.5" stroke-linecap="butt"/>
<line x1="1473.0" y1="759.0" x2="1473.0" y2="849.0" stroke-width="6.5" stroke-linecap="butt"/>
<line x1="1471.0" y1="762.6" x2="1489.0" y2="762.6" stroke-width="8" stroke-linecap="butt"/>
<path d="M1470.0 783.0 L1455.0 783.0 L1455.0 825.0 L1470.0 825.0" fill="none" stroke-width="7" stroke-linejoin="round" stroke-linecap="butt"/>
<path d="M1490.0 745.8 L1579.5 747.0 L1579.5 830.4 L1490.0 830.4" fill="none" stroke-width="8" stroke-linejoin="round" stroke-linecap="butt"/>
<line x1="1560.0" y1="830.0" x2="1560.0" y2="846.0" stroke-width="6" stroke-linecap="butt"/>
<line x1="1490.0" y1="840.0" x2="1513.5" y2="840.0" stroke-width="3" stroke-linecap="butt"/>
<line x1="1497.0" y1="800.0" x2="1504.0" y2="794.0" stroke-width="4" stroke-linecap="butt"/>
<line x1="1618.0" y1="725.0" x2="1618.0" y2="757.0" stroke-width="4.5" stroke-linecap="butt"/>
<line x1="1618.0" y1="777.0" x2="1618.0" y2="806.0" stroke-width="4.5" stroke-linecap="butt"/>
<line x1="1618.0" y1="819.5" x2="1618.0" y2="846.0" stroke-width="4.5" stroke-linecap="butt"/>
<line x1="1647.2" y1="725.0" x2="1647.2" y2="759.5" stroke-width="4.5" stroke-linecap="butt"/>
<line x1="1647.2" y1="771.0" x2="1647.2" y2="798.0" stroke-width="4.5" stroke-linecap="butt"/>
<line x1="1647.2" y1="817.0" x2="1647.2" y2="846.0" stroke-width="4.5" stroke-linecap="butt"/>
<line x1="1634.3" y1="693.0" x2="1634.5" y2="760.0" stroke-width="3" stroke-linecap="butt"/>
<circle cx="1873.7" cy="777.0" r="14.0" fill="none" stroke-width="5"/>
<line x1="1846.0" y1="777.0" x2="2081.0" y2="779.0" stroke-width="3" stroke-linecap="butt"/>
<path d="M1938.0 722.0 L1938.0 730.5 L2003.0 730.5" fill="none" stroke-width="3" stroke-linejoin="miter" stroke-linecap="butt" stroke-dasharray="14 7"/>
<path d="M1956.0 846.0 L1956.0 820.0 L2009.0 820.0 L2009.0 846.0" fill="none" stroke-width="5" stroke-linejoin="round" stroke-linecap="butt"/>
<line x1="1956.0" y1="836.0" x2="2009.0" y2="836.0" stroke-width="3" stroke-linecap="butt"/>
<line x1="1809.0" y1="836.0" x2="1955.0" y2="836.0" stroke-width="3" stroke-linecap="butt"/>
<line x1="1828.0" y1="815.0" x2="1828.0" y2="895.0" stroke-width="3" stroke-linecap="butt"/>
<line x1="1820.0" y1="844.0" x2="1836.0" y2="828.0" stroke-width="3" stroke-linecap="butt"/>
<line x1="1820.0" y1="854.0" x2="1836.0" y2="838.0" stroke-width="3" stroke-linecap="butt"/>
<text x="0" y="0" font-size="36.9" textLength="43.3" lengthAdjust="spacingAndGlyphs" style="stroke-width:0.80px;" transform="translate(1815.0 904.0) rotate(-90) skewX(-10)">30</text>
<line x1="2052.5" y1="766.0" x2="2053.0" y2="864.0" stroke-width="3" stroke-linecap="butt"/>
<line x1="2043.5" y1="787.0" x2="2061.5" y2="769.0" stroke-width="3" stroke-linecap="butt"/>
<line x1="2044.0" y1="855.0" x2="2062.0" y2="837.0" stroke-width="3" stroke-linecap="butt"/>
<text x="0" y="0" font-size="36.9" textLength="50.3" lengthAdjust="spacingAndGlyphs" style="stroke-width:0.80px;" transform="translate(2044.0 835.0) rotate(-90) skewX(-10)">210</text>
<path d="M2437.4 719.0 L2437.4 762.7 L2498.0 762.7" fill="none" stroke-width="8.2" stroke-linejoin="round" stroke-linecap="butt"/>
<line x1="2498.6" y1="716.0" x2="2498.6" y2="835.0" stroke-width="7.5" stroke-linecap="butt"/>
<path d="M2498.0 805.3 L2436.3 805.3 L2436.3 824.5 L2498.0 824.5" fill="none" stroke-width="7.5" stroke-linejoin="round" stroke-linecap="butt"/>
<line x1="2434.0" y1="824.0" x2="2416.0" y2="846.0" stroke-width="3" stroke-linecap="butt"/>
<path d="M2498.0 741.4 L2577.0 741.4 L2577.0 843.0" fill="none" stroke-width="8.5" stroke-linejoin="round" stroke-linecap="butt"/>
<line x1="2495.0" y1="831.0" x2="2577.0" y2="831.0" stroke-width="8" stroke-linecap="butt"/>
<line x1="2528.0" y1="795.5" x2="2566.0" y2="827.0" stroke-width="3.5" stroke-linecap="butt"/>
<line x1="2516.0" y1="838.5" x2="2573.0" y2="838.5" stroke-width="2.5" stroke-linecap="butt"/>
<line x1="2512.7" y1="834.0" x2="2512.7" y2="845.0" stroke-width="6" stroke-linecap="butt"/>
<path d="M2564.5 609.5 L2573.0 609.5" fill="none" stroke-width="3.5" stroke-linejoin="miter" stroke-linecap="butt"/>
<line x1="2573.0" y1="609.5" x2="2573.0" y2="713.4" stroke-width="3.5" stroke-linecap="butt" stroke-dasharray="40 8"/>
<line x1="2564.5" y1="713.4" x2="2573.0" y2="713.4" stroke-width="3.5" stroke-linecap="butt"/>
<line x1="2933.5" y1="722.0" x2="2933.5" y2="843.0" stroke-width="3" stroke-linecap="butt" stroke-dasharray="38 10"/>
<line x1="2952.0" y1="722.0" x2="2952.0" y2="843.0" stroke-width="3" stroke-linecap="butt" stroke-dasharray="38 10"/>
<path d="M3054.0 716.0 L3054.0 745.8 L3110.0 745.8" fill="none" stroke-width="7.5" stroke-linejoin="round" stroke-linecap="butt"/>
<line x1="3054.0" y1="727.0" x2="3118.0" y2="727.0" stroke-width="11" stroke-linecap="butt"/>
<line x1="3106.5" y1="744.0" x2="3106.5" y2="814.0" stroke-width="7" stroke-linecap="butt"/>
<line x1="3096.0" y1="750.3" x2="3096.0" y2="769.0" stroke-width="5.5" stroke-linecap="butt"/>
<line x1="3096.0" y1="783.2" x2="3096.0" y2="807.0" stroke-width="5.5" stroke-linecap="butt"/>
<path d="M3110.0 812.3 L3054.5 812.3 L3054.5 848.0" fill="none" stroke-width="7.5" stroke-linejoin="round" stroke-linecap="butt"/>
<line x1="3054.0" y1="830.3" x2="3120.0" y2="830.3" stroke-width="11" stroke-linecap="butt"/>
<line x1="3052.0" y1="714.2" x2="3252.0" y2="715.0" stroke-width="3" stroke-linecap="butt"/>
<line x1="3270.0" y1="715.5" x2="3588.0" y2="716.0" stroke-width="3" stroke-linecap="butt"/>
<line x1="3117.0" y1="731.6" x2="3351.0" y2="733.0" stroke-width="3" stroke-linecap="butt"/>
<line x1="3109.0" y1="744.5" x2="3465.0" y2="747.0" stroke-width="3" stroke-linecap="butt"/>
<line x1="3109.0" y1="810.3" x2="3460.0" y2="813.0" stroke-width="3" stroke-linecap="butt"/>
<line x1="3120.0" y1="827.0" x2="3357.0" y2="829.7" stroke-width="3" stroke-linecap="butt"/>
<line x1="3081.0" y1="845.0" x2="3601.0" y2="847.0" stroke-width="3" stroke-linecap="butt"/>
<line x1="3056.0" y1="845.5" x2="3069.0" y2="845.5" stroke-width="3" stroke-linecap="butt"/>
<line x1="3330.0" y1="647.0" x2="3330.0" y2="744.0" stroke-width="3" stroke-linecap="butt"/>
<line x1="3330.0" y1="821.0" x2="3330.0" y2="895.0" stroke-width="3" stroke-linecap="butt"/>
<line x1="3444.0" y1="643.0" x2="3446.0" y2="755.0" stroke-width="3" stroke-linecap="butt"/>
<line x1="3446.0" y1="796.0" x2="3446.0" y2="914.0" stroke-width="3" stroke-linecap="butt"/>
<line x1="3566.0" y1="696.0" x2="3570.0" y2="867.0" stroke-width="3" stroke-linecap="butt"/>
<line x1="3321.0" y1="725.0" x2="3339.0" y2="707.0" stroke-width="3" stroke-linecap="butt"/>
<line x1="3321.0" y1="742.0" x2="3339.0" y2="724.0" stroke-width="3" stroke-linecap="butt"/>
<line x1="3436.0" y1="725.0" x2="3454.0" y2="707.0" stroke-width="3" stroke-linecap="butt"/>
<line x1="3436.0" y1="755.0" x2="3454.0" y2="737.0" stroke-width="3" stroke-linecap="butt"/>
<line x1="3437.0" y1="821.0" x2="3455.0" y2="803.0" stroke-width="3" stroke-linecap="butt"/>
<line x1="3437.0" y1="855.5" x2="3455.0" y2="837.5" stroke-width="3" stroke-linecap="butt"/>
<line x1="3321.0" y1="838.0" x2="3339.0" y2="820.0" stroke-width="3" stroke-linecap="butt"/>
<line x1="3321.0" y1="855.5" x2="3339.0" y2="837.5" stroke-width="3" stroke-linecap="butt"/>
<line x1="3558.0" y1="725.0" x2="3576.0" y2="707.0" stroke-width="3" stroke-linecap="butt"/>
<line x1="3560.0" y1="855.5" x2="3578.0" y2="837.5" stroke-width="3" stroke-linecap="butt"/>
<text x="0" y="0" font-size="41.8" textLength="51.8" lengthAdjust="spacingAndGlyphs" style="stroke-width:0.80px;" transform="translate(3319.0 694.0) rotate(-90) skewX(-10)">50</text>
<text x="0" y="0" font-size="41.8" textLength="68.8" lengthAdjust="spacingAndGlyphs" style="stroke-width:0.80px;" transform="translate(3431.0 705.0) rotate(-90) skewX(-10)">105</text>
<text x="0" y="0" font-size="44.2" textLength="76.5" lengthAdjust="spacingAndGlyphs" style="stroke-width:0.80px;" transform="translate(3560.0 821.0) rotate(-90) skewX(-10)">400</text>
<text x="0" y="0" font-size="44.2" textLength="51.5" lengthAdjust="spacingAndGlyphs" style="stroke-width:0.80px;" transform="translate(3323.0 912.0) rotate(-90) skewX(-10)">50</text>
<text x="0" y="0" font-size="39.3" textLength="71.0" lengthAdjust="spacingAndGlyphs" style="stroke-width:0.80px;" transform="translate(3441.0 931.0) rotate(-90) skewX(-10)">105</text>
<text x="0" y="0" font-size="62.8" textLength="553.7" lengthAdjust="spacingAndGlyphs" style="stroke-width:0.80px;" transform="translate(1879.0 1287.0) rotate(-1) skewX(-10)">К76-1-5, К76-2-5</text>
<line x1="1853.0" y1="1300.0" x2="2452.0" y2="1300.0" stroke-width="6" stroke-linecap="round"/>
<line x1="1103.5" y1="1350.0" x2="1103.5" y2="1448.0" stroke-width="5" stroke-linecap="butt"/>
<path d="M1093.5 1388.0 L1103.5 1400.0 L1113.5 1388.0 L1103.5 1434.0 Z" fill="#000" stroke="none"/>
<line x1="1090.0" y1="1450.0" x2="1180.0" y2="1450.0" stroke-width="8.5" stroke-linecap="round"/>
<text x="0" y="0" font-size="62.8" textLength="20.7" lengthAdjust="spacingAndGlyphs" style="stroke-width:0.80px;" transform="translate(1129.0 1428.0) rotate(0) skewX(-10)">1</text>
<line x1="3524.0" y1="1340.0" x2="3524.0" y2="1442.0" stroke-width="5" stroke-linecap="butt"/>
<path d="M3514.0 1382.0 L3524.0 1394.0 L3534.0 1382.0 L3524.0 1428.0 Z" fill="#000" stroke="none"/>
<line x1="3450.0" y1="1444.0" x2="3543.0" y2="1444.0" stroke-width="8.5" stroke-linecap="round"/>
<text x="0" y="0" font-size="62.8" textLength="22.7" lengthAdjust="spacingAndGlyphs" style="stroke-width:0.80px;" transform="translate(3455.0 1410.0) rotate(0) skewX(-10)">1</text>
<line x1="1093.0" y1="1878.0" x2="1188.0" y2="1878.0" stroke-width="9" stroke-linecap="round"/>
<line x1="1108.0" y1="1878.0" x2="1108.0" y2="1963.0" stroke-width="5" stroke-linecap="butt"/>
<line x1="1108.0" y1="1961.0" x2="1108.0" y2="1983.0" stroke-width="3" stroke-linecap="butt"/>
<path d="M1098.0 1963.0 L1108.0 1951.0 L1118.0 1963.0 L1108.0 1905.0 Z" fill="#000" stroke="none"/>
<text x="0" y="0" font-size="62.8" textLength="19.7" lengthAdjust="spacingAndGlyphs" style="stroke-width:0.80px;" transform="translate(1149.0 1963.0) rotate(0) skewX(-10)">1</text>
<line x1="3452.0" y1="1873.0" x2="3548.0" y2="1873.0" stroke-width="9" stroke-linecap="round"/>
<line x1="3528.5" y1="1873.0" x2="3528.5" y2="1967.0" stroke-width="5" stroke-linecap="butt"/>
<line x1="3528.5" y1="1965.0" x2="3528.5" y2="1987.0" stroke-width="3" stroke-linecap="butt"/>
<path d="M3518.5 1969.0 L3528.5 1957.0 L3538.5 1969.0 L3528.5 1925.0 Z" fill="#000" stroke="none"/>
<text x="0" y="0" font-size="64.2" textLength="17.5" lengthAdjust="spacingAndGlyphs" style="stroke-width:0.80px;" transform="translate(3466.0 1967.0) rotate(0) skewX(-10)">1</text>
<circle cx="1334.0" cy="1423.0" r="71.5" fill="none" stroke-width="3"/>
<line x1="1271.0" y1="1423.0" x2="1397.0" y2="1423.0" stroke-width="3" stroke-linecap="butt"/>
<text x="0" y="0" font-size="55.9" textLength="41.4" lengthAdjust="spacingAndGlyphs" style="stroke-width:0.80px;" transform="translate(1304.0 1411.0) rotate(0) skewX(-10)">11</text>
<text x="0" y="0" font-size="50.3" textLength="63.9" lengthAdjust="spacingAndGlyphs" style="stroke-width:0.80px;" transform="translate(1297.0 1471.5) rotate(0) skewX(-10)">26</text>
<line x1="1371.5" y1="1482.0" x2="1524.0" y2="1636.0" stroke-width="3" stroke-linecap="butt"/>
<circle cx="2704.0" cy="1375.5" r="71.0" fill="none" stroke-width="3"/>
<line x1="2633.0" y1="1375.5" x2="2775.0" y2="1375.5" stroke-width="3" stroke-linecap="butt"/>
<text x="0" y="0" font-size="44.7" textLength="51.5" lengthAdjust="spacingAndGlyphs" style="stroke-width:0.80px;" transform="translate(2676.0 1366.5) rotate(0) skewX(-10)">13</text>
<text x="0" y="0" font-size="44.7" textLength="59.5" lengthAdjust="spacingAndGlyphs" style="stroke-width:0.80px;" transform="translate(2672.0 1422.5) rotate(0) skewX(-10)">27</text>
<line x1="2667.0" y1="1441.0" x2="2611.0" y2="1540.0" stroke-width="3" stroke-linecap="butt"/>
<circle cx="3257.0" cy="1384.0" r="71.5" fill="none" stroke-width="3"/>
<line x1="3185.5" y1="1384.0" x2="3328.5" y2="1384.0" stroke-width="3" stroke-linecap="butt"/>
<text x="0" y="0" font-size="51.7" textLength="54.8" lengthAdjust="spacingAndGlyphs" style="stroke-width:0.80px;" transform="translate(3227.0 1375.0) rotate(0) skewX(-10)">17</text>
<text x="0" y="0" font-size="51.7" textLength="65.8" lengthAdjust="spacingAndGlyphs" style="stroke-width:0.80px;" transform="translate(3221.5 1436.0) rotate(0) skewX(-10)">28</text>
<line x1="3259.0" y1="1455.5" x2="3135.0" y2="1673.0" stroke-width="3" stroke-linecap="butt"/>
<line x1="1446.0" y1="1461.0" x2="1897.0" y2="1461.0" stroke-width="3" stroke-linecap="butt"/>
<text x="0" y="0" font-size="47.5" textLength="105.2" lengthAdjust="spacingAndGlyphs" style="stroke-width:0.80px;" transform="translate(1627.0 1450.0) rotate(0) skewX(-10)">1400</text>
<line x1="1455.0" y1="1472.0" x2="1477.0" y2="1450.0" stroke-width="3" stroke-linecap="butt"/>
<line x1="1860.5" y1="1472.0" x2="1882.5" y2="1450.0" stroke-width="3" stroke-linecap="butt"/>
<line x1="1466.0" y1="1443.0" x2="1470.0" y2="2073.0" stroke-width="3" stroke-linecap="butt"/>
<line x1="1872.0" y1="1445.0" x2="1873.0" y2="1754.0" stroke-width="3" stroke-linecap="butt"/>
<text x="0" y="0" font-size="55.9" textLength="108.4" lengthAdjust="spacingAndGlyphs" style="stroke-width:0.80px;" transform="translate(1677.0 1558.0) rotate(0) skewX(-10)">Отв</text>
<text x="0" y="0" font-size="50.3" textLength="125.9" lengthAdjust="spacingAndGlyphs" style="stroke-width:0.80px;" transform="translate(1662.0 1618.0) rotate(0) skewX(-10)">d=80</text>
<line x1="1662.0" y1="1568.5" x2="1815.0" y2="1568.5" stroke-width="4.5" stroke-linecap="round"/>
<path d="M1815.0 1568.5 L1866.0 1702.0" fill="none" stroke-width="3" stroke-linejoin="miter" stroke-linecap="butt"/>
<line x1="1904.0" y1="1506.0" x2="1904.0" y2="1574.0" stroke-width="9" stroke-linecap="round"/>
<text x="0" y="0" font-size="53.1" textLength="30.6" lengthAdjust="spacingAndGlyphs" style="stroke-width:0.80px;" transform="translate(1922.0 1558.0) rotate(0) skewX(-10)">2</text>
<line x1="1905.0" y1="1866.0" x2="1905.0" y2="1935.0" stroke-width="9" stroke-linecap="round"/>
<text x="0" y="0" font-size="60.1" textLength="33.4" lengthAdjust="spacingAndGlyphs" style="stroke-width:0.30px;" transform="translate(1923.5 1927.0) rotate(0) skewX(-10)">2</text>
<text x="0" y="0" font-size="53.1" textLength="100.6" lengthAdjust="spacingAndGlyphs" style="stroke-width:0.80px;" transform="translate(1956.0 1579.0) rotate(0) skewX(-10)">М42</text>
<line x1="2046.0" y1="1589.0" x2="1922.0" y2="1589.0" stroke-width="4.5" stroke-linecap="round"/>
<path d="M1922.0 1589.0 L1950.0 1653.0" fill="none" stroke-width="3" stroke-linejoin="miter" stroke-linecap="butt"/>
<line x1="2346.0" y1="1394.0" x2="2576.0" y2="1394.0" stroke-width="3" stroke-linecap="butt"/>
<text x="0" y="0" font-size="44.7" textLength="84.5" lengthAdjust="spacingAndGlyphs" style="stroke-width:0.80px;" transform="translate(2396.0 1379.0) rotate(0) skewX(-10)">720</text>
<text x="0" y="0" font-size="33.5" textLength="41.6" lengthAdjust="spacingAndGlyphs" style="stroke-width:0.80px;" transform="translate(2487.0 1368.0) rotate(0) skewX(-10)">±1</text>
<line x1="2349.0" y1="1405.0" x2="2371.0" y2="1383.0" stroke-width="3" stroke-linecap="butt"/>
<line x1="2546.0" y1="1405.0" x2="2568.0" y2="1383.0" stroke-width="3" stroke-linecap="butt"/>
<line x1="2460.0" y1="1462.0" x2="2590.0" y2="1462.0" stroke-width="3" stroke-linecap="butt"/>
<text x="0" y="0" font-size="44.7" textLength="77.5" lengthAdjust="spacingAndGlyphs" style="stroke-width:0.80px;" transform="translate(2473.0 1450.0) rotate(0) skewX(-10)">230</text>
<line x1="2475.0" y1="1473.0" x2="2497.0" y2="1451.0" stroke-width="3" stroke-linecap="butt"/>
<line x1="2546.0" y1="1473.0" x2="2568.0" y2="1451.0" stroke-width="3" stroke-linecap="butt"/>
<line x1="2360.0" y1="1379.0" x2="2360.0" y2="1627.0" stroke-width="3" stroke-linecap="butt"/>
<line x1="2557.0" y1="1374.0" x2="2558.0" y2="1541.0" stroke-width="3" stroke-linecap="butt"/>
<line x1="2486.0" y1="1454.0" x2="2488.0" y2="1765.0" stroke-width="3" stroke-linecap="butt"/>
<text x="0" y="0" font-size="47.5" textLength="107.2" lengthAdjust="spacingAndGlyphs" style="stroke-width:0.80px;" transform="translate(2719.0 1525.5) rotate(0) skewX(-10)">М43</text>
<line x1="2842.0" y1="1540.5" x2="2710.0" y2="1540.5" stroke-width="4.5" stroke-linecap="round"/>
<path d="M2710.0 1540.5 L2534.0 1717.0" fill="none" stroke-width="3" stroke-linejoin="miter" stroke-linecap="butt"/>
<text x="0" y="0" font-size="48.9" textLength="90.1" lengthAdjust="spacingAndGlyphs" style="stroke-width:0.80px;" transform="translate(2374.0 1532.0) rotate(0) skewX(-10)">М51</text>
<line x1="2356.0" y1="1542.5" x2="2475.0" y2="1542.5" stroke-width="4.5" stroke-linecap="round"/>
<path d="M2475.0 1542.5 L2555.0 1620.0" fill="none" stroke-width="3" stroke-linejoin="miter" stroke-linecap="butt"/>
<line x1="2178.0" y1="1557.0" x2="2178.0" y2="1672.0" stroke-width="3" stroke-linecap="butt"/>
<line x1="2156.0" y1="1627.0" x2="2359.0" y2="1627.0" stroke-width="3" stroke-linecap="butt"/>
<line x1="2169.0" y1="1636.0" x2="2187.0" y2="1618.0" stroke-width="3" stroke-linecap="butt"/>
<line x1="2169.0" y1="1665.0" x2="2187.0" y2="1647.0" stroke-width="3" stroke-linecap="butt"/>
<text x="0" y="0" font-size="36.9" textLength="61.3" lengthAdjust="spacingAndGlyphs" style="stroke-width:0.80px;" transform="translate(2165.0 1610.0) rotate(-90) skewX(-10)">120</text>
<line x1="2179.0" y1="1761.0" x2="2179.0" y2="1834.0" stroke-width="3" stroke-linecap="butt"/>
<line x1="2170.0" y1="1815.0" x2="2361.0" y2="1815.0" stroke-width="3" stroke-linecap="butt"/>
<line x1="2170.0" y1="1790.0" x2="2188.0" y2="1772.0" stroke-width="3" stroke-linecap="butt"/>
<line x1="2170.0" y1="1824.0" x2="2188.0" y2="1806.0" stroke-width="3" stroke-linecap="butt"/>
<text x="0" y="0" font-size="36.9" textLength="61.3" lengthAdjust="spacingAndGlyphs" style="stroke-width:0.80px;" transform="translate(2169.0 1874.0) rotate(-90) skewX(-10)">120</text>
<path d="M1467.7 1786.0 L1467.7 1658.0 L2559.0 1655.5 L2559.0 1544.5 L2652.0 1544.5 L2773.0 1652.5 L3056.8 1653.2 L3056.8 1677.7 L3113.0 1677.7" fill="none" stroke-width="8" stroke-linejoin="round" stroke-linecap="butt"/>
<line x1="1480.6" y1="1658.0" x2="1480.6" y2="1784.0" stroke-width="6.5" stroke-linecap="butt"/>
<path d="M1464.0 1784.0 L2557.0 1781.0 L2557.0 1888.0 L2665.0 1888.0 L2771.0 1778.0 L3058.7 1778.4 L3058.7 1750.0 L3112.0 1750.0" fill="none" stroke-width="8" stroke-linejoin="round" stroke-linecap="butt"/>
<path d="M1465.0 1668.5 L1450.0 1668.5 L1450.0 1708.0 L1465.0 1708.0" fill="none" stroke-width="7" stroke-linejoin="round" stroke-linecap="butt"/>
<path d="M1465.0 1739.0 L1450.5 1739.0 L1450.5 1768.0 L1465.0 1768.0" fill="none" stroke-width="7" stroke-linejoin="round" stroke-linecap="butt"/>
<path d="M1483.0 1682.0 L1580.0 1683.0 L1581.0 1771.0 L1483.0 1771.0 Z" fill="none" stroke-width="8" stroke-linejoin="round" stroke-linecap="butt"/>
<line x1="1515.0" y1="1769.0" x2="1528.0" y2="1754.0" stroke-width="3" stroke-linecap="butt"/>
<line x1="1431.0" y1="1722.5" x2="2003.0" y2="1721.5" stroke-width="3" stroke-linecap="butt"/>
<line x1="2135.0" y1="1722.5" x2="2740.0" y2="1721.5" stroke-width="3" stroke-linecap="butt"/>
<line x1="2848.0" y1="1722.5" x2="3171.0" y2="1721.5" stroke-width="3" stroke-linecap="butt"/>
<circle cx="2074.5" cy="1722.0" r="2.5" fill="#000" stroke-width="0"/>
<circle cx="2805.0" cy="1721.0" r="2.5" fill="#000" stroke-width="0"/>
<line x1="1618.0" y1="1661.0" x2="1618.0" y2="1693.5" stroke-width="5" stroke-linecap="butt"/>
<line x1="1618.0" y1="1710.0" x2="1618.0" y2="1740.5" stroke-width="5" stroke-linecap="butt"/>
<line x1="1618.0" y1="1750.0" x2="1618.0" y2="1781.0" stroke-width="5" stroke-linecap="butt"/>
<line x1="1642.0" y1="1661.0" x2="1642.0" y2="1693.5" stroke-width="5" stroke-linecap="butt"/>
<line x1="1642.0" y1="1710.0" x2="1642.0" y2="1740.5" stroke-width="5" stroke-linecap="butt"/>
<line x1="1642.0" y1="1750.0" x2="1642.0" y2="1781.0" stroke-width="5" stroke-linecap="butt"/>
<line x1="1631.0" y1="1628.0" x2="1631.0" y2="1684.5" stroke-width="4" stroke-linecap="butt"/>
<line x1="1631.0" y1="1705.0" x2="1631.0" y2="1715.0" stroke-width="3" stroke-linecap="butt"/>
<line x1="1632.0" y1="1723.0" x2="1632.0" y2="1795.5" stroke-width="2.6" stroke-linecap="butt"/>
<circle cx="1872.8" cy="1722.8" r="14.5" fill="none" stroke-width="4"/>
<path d="M1942.0 1659.0 L1942.0 1669.0 L2003.0 1669.0" fill="none" stroke-width="3" stroke-linejoin="miter" stroke-linecap="butt" stroke-dasharray="14 7"/>
<path d="M1944.0 1780.0 L1944.0 1769.0 L2003.0 1769.0 L2003.0 1780.0" fill="none" stroke-width="4" stroke-linejoin="round" stroke-linecap="butt"/>
<text x="0" y="0" font-size="47.5" textLength="86.2" lengthAdjust="spacingAndGlyphs" style="stroke-width:0.80px;" transform="translate(1999.0 1829.5) rotate(0) skewX(-10)">М42</text>
<line x1="2088.0" y1="1836.5" x2="1988.0" y2="1836.5" stroke-width="4.5" stroke-linecap="round"/>
<path d="M1988.0 1836.5 L1960.0 1784.0" fill="none" stroke-width="3" stroke-linejoin="miter" stroke-linecap="butt"/>
<line x1="2359.4" y1="1626.0" x2="2359.4" y2="1656.0" stroke-width="8.6" stroke-linecap="round"/>
<line x1="2361.5" y1="1781.0" x2="2361.5" y2="1814.0" stroke-width="9" stroke-linecap="butt"/>
<path d="M2564.0 1555.5 L2572.5 1555.5 L2572.5 1639.5 L2564.0 1639.5" fill="none" stroke-width="3" stroke-linejoin="miter" stroke-linecap="butt" stroke-dasharray="30 8"/>
<path d="M2562.0 1791.0 L2571.0 1791.0 L2571.0 1873.0 L2562.0 1873.0" fill="none" stroke-width="3" stroke-linejoin="miter" stroke-linecap="butt" stroke-dasharray="30 8"/>
<path d="M2488.0 1672.0 L2573.0 1672.0 L2573.0 1765.0 L2488.0 1765.0 Z" fill="none" stroke-width="6" stroke-linejoin="round" stroke-linecap="butt"/>
<text x="0" y="0" font-size="51.7" textLength="100.8" lengthAdjust="spacingAndGlyphs" style="stroke-width:0.80px;" transform="translate(1286.0 1834.0) rotate(0) skewX(-10)">М55</text>
<line x1="1267.0" y1="1844.0" x2="1399.0" y2="1844.0" stroke-width="4" stroke-linecap="butt"/>
<text x="0" y="0" font-size="47.5" textLength="105.2" lengthAdjust="spacingAndGlyphs" style="stroke-width:0.80px;" transform="translate(1289.0 1892.0) rotate(0) skewX(-10)">М57</text>
<line x1="1276.0" y1="1898.5" x2="1401.0" y2="1898.5" stroke-width="4.5" stroke-linecap="round"/>
<path d="M1401.0 1898.5 L1500.0 1786.5" fill="none" stroke-width="3" stroke-linejoin="miter" stroke-linecap="butt"/>
<line x1="1422.0" y1="1815.5" x2="1463.0" y2="1771.0" stroke-width="3" stroke-linecap="butt"/>
<text x="0" y="0" font-size="54.5" textLength="106.5" lengthAdjust="spacingAndGlyphs" style="stroke-width:0.80px;" transform="translate(1308.0 1972.0) rotate(0) skewX(-10)">М16</text>
<line x1="1291.0" y1="1983.0" x2="1446.0" y2="1983.0" stroke-width="4.5" stroke-linecap="round"/>
<path d="M1446.0 1983.0 L1614.0 1786.5" fill="none" stroke-width="3" stroke-linejoin="miter" stroke-linecap="butt"/>
<text x="0" y="0" font-size="51.7" textLength="82.8" lengthAdjust="spacingAndGlyphs" style="stroke-width:0.80px;" transform="translate(2079.0 1970.0) rotate(0) skewX(-10)">М3</text>
<line x1="2064.0" y1="1981.5" x2="2193.0" y2="1981.5" stroke-width="4.5" stroke-linecap="round"/>
<path d="M2193.0 1981.5 L2270.0 1900.0" fill="none" stroke-width="3" stroke-linejoin="miter" stroke-linecap="butt"/>
<line x1="2290.0" y1="1880.0" x2="2353.0" y2="1819.0" stroke-width="3" stroke-linecap="butt"/>
<text x="0" y="0" font-size="50.3" textLength="99.9" lengthAdjust="spacingAndGlyphs" style="stroke-width:0.80px;" transform="translate(2342.0 1963.0) rotate(0) skewX(-10)">М51</text>
<line x1="2322.0" y1="1978.5" x2="2452.0" y2="1978.5" stroke-width="4.5" stroke-linecap="round"/>
<path d="M2452.0 1978.5 L2553.0 1884.0" fill="none" stroke-width="3" stroke-linejoin="miter" stroke-linecap="butt"/>
<text x="0" y="0" font-size="51.0" textLength="106.9" lengthAdjust="spacingAndGlyphs" style="stroke-width:0.80px;" transform="translate(3205.0 1855.0) rotate(0) skewX(-10)">М48</text>
<line x1="3321.5" y1="1868.0" x2="3188.0" y2="1868.0" stroke-width="4.5" stroke-linecap="round"/>
<path d="M3188.0 1868.0 L3126.5 1772.5 L3111.0 1749.5" fill="none" stroke-width="3" stroke-linejoin="round" stroke-linecap="butt"/>
<line x1="2555.0" y1="1888.0" x2="2556.0" y2="2071.0" stroke-width="3" stroke-linecap="butt"/>
<line x1="2668.0" y1="1888.0" x2="2668.0" y2="1989.0" stroke-width="3" stroke-linecap="butt"/>
<line x1="2773.0" y1="1778.0" x2="2773.0" y2="1989.0" stroke-width="3" stroke-linecap="butt"/>
<line x1="2665.0" y1="1891.0" x2="2876.0" y2="1892.0" stroke-width="3" stroke-linecap="butt"/>
<line x1="2867.5" y1="1779.0" x2="2867.0" y2="1901.0" stroke-width="3" stroke-linecap="butt"/>
<line x1="2858.5" y1="1789.0" x2="2876.5" y2="1771.0" stroke-width="3" stroke-linecap="butt"/>
<line x1="2858.0" y1="1901.0" x2="2876.0" y2="1883.0" stroke-width="3" stroke-linecap="butt"/>
<text x="0" y="0" font-size="40.6" textLength="75.9" lengthAdjust="spacingAndGlyphs" style="stroke-width:0.80px;" transform="translate(2856.0 1880.0) rotate(-90) skewX(-10)">350</text>
<text x="0" y="0" font-size="47.5" textLength="72.7" lengthAdjust="spacingAndGlyphs" style="stroke-width:0.80px;" transform="translate(2581.0 1963.0) rotate(0) skewX(-10)">300</text>
<text x="0" y="0" font-size="45.4" textLength="72.9" lengthAdjust="spacingAndGlyphs" style="stroke-width:0.80px;" transform="translate(2684.5 1970.0) rotate(0) skewX(-10)">350</text>
<line x1="2544.0" y1="1984.0" x2="2781.5" y2="1984.0" stroke-width="3" stroke-linecap="butt"/>
<line x1="2546.0" y1="1993.0" x2="2564.0" y2="1975.0" stroke-width="3" stroke-linecap="butt"/>
<line x1="2659.0" y1="1993.0" x2="2677.0" y2="1975.0" stroke-width="3" stroke-linecap="butt"/>
<line x1="2764.0" y1="1993.0" x2="2782.0" y2="1975.0" stroke-width="3" stroke-linecap="butt"/>
<line x1="1457.0" y1="2049.0" x2="3132.0" y2="2049.0" stroke-width="3" stroke-linecap="butt"/>
<text x="0" y="0" font-size="47.5" textLength="122.2" lengthAdjust="spacingAndGlyphs" style="stroke-width:0.80px;" transform="translate(1917.0 2034.5) rotate(0) skewX(-10)">3590</text>
<text x="0" y="0" font-size="45.4" textLength="114.4" lengthAdjust="spacingAndGlyphs" style="stroke-width:0.80px;" transform="translate(2804.0 2030.0) rotate(0) skewX(-10)">1800</text>
<line x1="1458.0" y1="2060.0" x2="1480.0" y2="2038.0" stroke-width="3" stroke-linecap="butt"/>
<line x1="2545.0" y1="2060.0" x2="2567.0" y2="2038.0" stroke-width="3" stroke-linecap="butt"/>
<line x1="3100.0" y1="2060.0" x2="3122.0" y2="2038.0" stroke-width="3" stroke-linecap="butt"/>
<line x1="3107.7" y1="1675.0" x2="3107.7" y2="1753.0" stroke-width="7.5" stroke-linecap="butt"/>
<line x1="3062.0" y1="1661.6" x2="3124.0" y2="1661.6" stroke-width="12" stroke-linecap="round"/>
<line x1="3063.0" y1="1766.8" x2="3123.0" y2="1766.8" stroke-width="12" stroke-linecap="round"/>
<line x1="3093.0" y1="1682.0" x2="3093.0" y2="1705.5" stroke-width="3.5" stroke-linecap="butt"/>
<line x1="3093.0" y1="1721.0" x2="3093.0" y2="1745.0" stroke-width="3.5" stroke-linecap="butt"/>
<text x="0" y="0" font-size="41.9" textLength="65.8" lengthAdjust="spacingAndGlyphs" style="stroke-width:0.80px;" transform="translate(2954.0 1523.0) rotate(0) skewX(-10)">100</text>
<text x="0" y="0" font-size="46.1" textLength="81.3" lengthAdjust="spacingAndGlyphs" style="stroke-width:0.80px;" transform="translate(3046.0 1525.0) rotate(0) skewX(-10)">200</text>
<line x1="2961.5" y1="1538.5" x2="3127.5" y2="1538.5" stroke-width="3" stroke-linecap="butt"/>
<line x1="2975.5" y1="1547.5" x2="2993.5" y2="1529.5" stroke-width="3" stroke-linecap="butt"/>
<line x1="3017.0" y1="1547.5" x2="3035.0" y2="1529.5" stroke-width="3" stroke-linecap="butt"/>
<line x1="3099.0" y1="1547.5" x2="3117.0" y2="1529.5" stroke-width="3" stroke-linecap="butt"/>
<line x1="2984.5" y1="1523.0" x2="2985.0" y2="1719.0" stroke-width="3" stroke-linecap="butt"/>
<line x1="3026.0" y1="1525.0" x2="3027.0" y2="1719.0" stroke-width="3" stroke-linecap="butt"/>
<line x1="3108.0" y1="1523.0" x2="3111.0" y2="2062.0" stroke-width="3" stroke-linecap="butt"/>
<line x1="2984.0" y1="1719.0" x2="3029.0" y2="1719.0" stroke-width="8.5" stroke-linecap="butt"/>
<line x1="2933.5" y1="1658.0" x2="2933.5" y2="1683.5" stroke-width="5.5" stroke-linecap="butt"/>
<line x1="2933.5" y1="1696.0" x2="2933.5" y2="1732.5" stroke-width="5.5" stroke-linecap="butt"/>
<line x1="2933.5" y1="1747.5" x2="2933.5" y2="1765.5" stroke-width="5.5" stroke-linecap="butt"/>
<line x1="2957.4" y1="1658.0" x2="2957.4" y2="1691.0" stroke-width="5.5" stroke-linecap="butt"/>
<line x1="2957.4" y1="1708.5" x2="2957.4" y2="1734.5" stroke-width="5.5" stroke-linecap="butt"/>
<line x1="2957.4" y1="1745.5" x2="2957.4" y2="1778.0" stroke-width="5.5" stroke-linecap="butt"/>
<line x1="2945.8" y1="1616.5" x2="2945.8" y2="1680.0" stroke-width="3.5" stroke-linecap="butt"/>
<line x1="2945.8" y1="1735.0" x2="2945.8" y2="1760.0" stroke-width="3.5" stroke-linecap="butt"/>
<line x1="2945.8" y1="1778.0" x2="2946.0" y2="1823.0" stroke-width="4" stroke-linecap="butt"/>
<circle cx="2945.8" cy="1708.0" r="2.5" fill="#000" stroke-width="0"/>
<line x1="3004.0" y1="1714.0" x2="3059.0" y2="1681.0" stroke-width="3" stroke-linecap="butt"/>
<line x1="3109.0" y1="1652.0" x2="3199.0" y2="1601.0" stroke-width="3" stroke-linecap="butt"/>
<line x1="3197.0" y1="1602.0" x2="4069.0" y2="1602.5" stroke-width="4" stroke-linecap="butt"/>
<text x="0" y="0" font-size="58.0" textLength="775.1" lengthAdjust="spacingAndGlyphs" style="stroke-width:0.30px;" transform="translate(3230.0 1585.0) rotate(0) skewX(-10)">Риски геометрических осей</text>
<text x="0" y="0" font-size="61.5" textLength="101.8" lengthAdjust="spacingAndGlyphs" style="stroke-width:0.30px;" transform="translate(2225.0 2125.0) rotate(0) skewX(-10)">1-1</text>
<line x1="2210.0" y1="2135.0" x2="2337.5" y2="2135.0" stroke-width="6" stroke-linecap="round"/>
<line x1="1442.0" y1="2189.5" x2="1997.0" y2="2189.5" stroke-width="3" stroke-linecap="butt"/>
<text x="0" y="0" font-size="47.5" textLength="111.7" lengthAdjust="spacingAndGlyphs" style="stroke-width:0.80px;" transform="translate(1659.5 2174.5) rotate(0) skewX(-10)">1675</text>
<line x1="1451.0" y1="2200.5" x2="1473.0" y2="2178.5" stroke-width="3" stroke-linecap="butt"/>
<line x1="1936.0" y1="2200.5" x2="1958.0" y2="2178.5" stroke-width="3" stroke-linecap="butt"/>
<text x="0" y="0" font-size="44.7" textLength="66.5" lengthAdjust="spacingAndGlyphs" style="stroke-width:0.80px;" transform="translate(1468.0 2256.5) rotate(0) skewX(-10)">200</text>
<text x="0" y="0" font-size="44.7" textLength="67.0" lengthAdjust="spacingAndGlyphs" style="stroke-width:0.80px;" transform="translate(1588.0 2256.0) rotate(0) skewX(-10)">100</text>
<line x1="1435.0" y1="2268.5" x2="1646.5" y2="2268.5" stroke-width="3" stroke-linecap="butt"/>
<line x1="1454.0" y1="2277.5" x2="1472.0" y2="2259.5" stroke-width="3" stroke-linecap="butt"/>
<line x1="1517.0" y1="2277.5" x2="1535.0" y2="2259.5" stroke-width="3" stroke-linecap="butt"/>
<line x1="1568.0" y1="2277.5" x2="1586.0" y2="2259.5" stroke-width="3" stroke-linecap="butt"/>
<line x1="1463.0" y1="2174.5" x2="1465.4" y2="2421.0" stroke-width="3.5" stroke-linecap="butt"/>
<line x1="1526.0" y1="2256.0" x2="1527.4" y2="2479.0" stroke-width="3.5" stroke-linecap="butt"/>
<line x1="1577.0" y1="2256.0" x2="1577.7" y2="2479.0" stroke-width="3.5" stroke-linecap="butt"/>
<line x1="1947.0" y1="2176.0" x2="1949.0" y2="2431.0" stroke-width="3" stroke-linecap="butt"/>
<line x1="2316.0" y1="2259.5" x2="2583.0" y2="2259.5" stroke-width="3" stroke-linecap="butt"/>
<text x="0" y="0" font-size="47.5" textLength="84.2" lengthAdjust="spacingAndGlyphs" style="stroke-width:0.80px;" transform="translate(2398.0 2239.0) rotate(0) skewX(-10)">720</text>
<text x="0" y="0" font-size="34.9" textLength="39.5" lengthAdjust="spacingAndGlyphs" style="stroke-width:0.80px;" transform="translate(2489.0 2226.0) rotate(0) skewX(-10)">±1</text>
<line x1="2342.5" y1="2270.5" x2="2364.5" y2="2248.5" stroke-width="3" stroke-linecap="butt"/>
<line x1="2549.0" y1="2270.5" x2="2571.0" y2="2248.5" stroke-width="3" stroke-linecap="butt"/>
<line x1="2353.0" y1="2230.5" x2="2354.5" y2="2526.0" stroke-width="3" stroke-linecap="butt"/>
<line x1="2560.0" y1="2230.0" x2="2560.0" y2="2414.0" stroke-width="3" stroke-linecap="butt"/>
<text x="0" y="0" font-size="44.7" textLength="68.5" lengthAdjust="spacingAndGlyphs" style="stroke-width:0.80px;" transform="translate(2107.0 2271.5) rotate(0) skewX(-10)">М3</text>
<line x1="2081.0" y1="2286.0" x2="2210.0" y2="2286.0" stroke-width="4" stroke-linecap="butt"/>
<text x="0" y="0" font-size="44.7" textLength="77.0" lengthAdjust="spacingAndGlyphs" style="stroke-width:0.80px;" transform="translate(2087.5 2325.0) rotate(0) skewX(-10)">М5</text>
<line x1="2210.0" y1="2286.0" x2="2341.0" y2="2443.0" stroke-width="3" stroke-linecap="butt"/>
<text x="0" y="0" font-size="50.3" textLength="186.9" lengthAdjust="spacingAndGlyphs" style="stroke-width:0.80px;" transform="translate(2624.0 2338.0) rotate(0) skewX(-10)">М50,М51</text>
<line x1="2793.0" y1="2347.0" x2="2620.0" y2="2347.0" stroke-width="4.5" stroke-linecap="round"/>
<path d="M2620.0 2347.0 L2565.5 2455.0" fill="none" stroke-width="3" stroke-linejoin="miter" stroke-linecap="butt"/>
<text x="0" y="0" font-size="43.3" textLength="74.6" lengthAdjust="spacingAndGlyphs" style="stroke-width:0.80px;" transform="translate(2945.0 2233.0) rotate(0) skewX(-10)">100</text>
<text x="0" y="0" font-size="41.9" textLength="80.8" lengthAdjust="spacingAndGlyphs" style="stroke-width:0.80px;" transform="translate(3048.0 2234.5) rotate(0) skewX(-10)">200</text>
<line x1="2962.0" y1="2253.5" x2="3151.5" y2="2253.5" stroke-width="3" stroke-linecap="butt"/>
<line x1="2979.0" y1="2262.5" x2="2997.0" y2="2244.5" stroke-width="3" stroke-linecap="butt"/>
<line x1="3024.0" y1="2262.5" x2="3042.0" y2="2244.5" stroke-width="3" stroke-linecap="butt"/>
<line x1="3102.5" y1="2262.5" x2="3120.5" y2="2244.5" stroke-width="3" stroke-linecap="butt"/>
<line x1="2988.0" y1="2238.0" x2="2990.0" y2="2470.0" stroke-width="3.5" stroke-linecap="butt"/>
<line x1="3033.0" y1="2233.0" x2="3034.0" y2="2466.0" stroke-width="3.5" stroke-linecap="butt"/>
<line x1="3111.0" y1="2238.0" x2="3112.0" y2="2410.0" stroke-width="3" stroke-linecap="butt"/>
<text x="0" y="0" font-size="50.3" textLength="106.9" lengthAdjust="spacingAndGlyphs" style="stroke-width:0.80px;" transform="translate(3248.0 2239.5) rotate(0) skewX(-10)">М48</text>
<line x1="3229.0" y1="2254.0" x2="3361.0" y2="2254.0" stroke-width="4" stroke-linecap="butt"/>
<line x1="3230.0" y1="2256.0" x2="3116.8" y2="2469.0" stroke-width="3" stroke-linecap="butt"/>
<line x1="3022.0" y1="2467.7" x2="3255.0" y2="2357.0" stroke-width="3" stroke-linecap="butt"/>
<line x1="3254.0" y1="2356.0" x2="3990.0" y2="2356.0" stroke-width="5" stroke-linecap="butt"/>
<text x="0" y="0" font-size="58.0" textLength="671.1" lengthAdjust="spacingAndGlyphs" style="stroke-width:0.30px;" transform="translate(3272.0 2339.5) rotate(0) skewX(-10)">Риски геометрических</text>
<text x="0" y="0" font-size="56.0" textLength="120.3" lengthAdjust="spacingAndGlyphs" style="stroke-width:0.80px;" transform="translate(3494.0 2409.0) rotate(0) skewX(-10)">осей</text>
<text x="0" y="0" font-size="58.0" textLength="666.1" lengthAdjust="spacingAndGlyphs" style="stroke-width:0.30px;" transform="translate(625.0 2358.0) rotate(0) skewX(-10)">Риски геометрических</text>
<text x="0" y="0" font-size="56.0" textLength="125.3" lengthAdjust="spacingAndGlyphs" style="stroke-width:0.80px;" transform="translate(776.0 2420.0) rotate(0) skewX(-10)">осей</text>
<line x1="602.0" y1="2376.0" x2="1321.0" y2="2376.0" stroke-width="5" stroke-linecap="round"/>
<line x1="1320.0" y1="2375.0" x2="1526.0" y2="2478.0" stroke-width="3" stroke-linecap="butt"/>
<text x="0" y="0" font-size="47.5" textLength="185.2" lengthAdjust="spacingAndGlyphs" style="stroke-width:0.80px;" transform="translate(1211.0 2640.0) rotate(0) skewX(-10)">М55,М58</text>
<line x1="1215.5" y1="2648.5" x2="1392.0" y2="2648.5" stroke-width="4.5" stroke-linecap="round"/>
<path d="M1392.0 2648.5 L1469.0 2553.0" fill="none" stroke-width="3" stroke-linejoin="miter" stroke-linecap="butt"/>
<path d="M1468.0 2423.3 L2100.0 2420.0 L2900.0 2413.5 L3113.5 2412.0" fill="none" stroke-width="9.3" stroke-linejoin="miter" stroke-linecap="butt"/>
<path d="M1468.4 2550.0 L2100.0 2544.5 L2900.0 2532.5 L3113.5 2530.3" fill="none" stroke-width="9" stroke-linejoin="miter" stroke-linecap="butt"/>
<path d="M1471.0 2434.0 L1454.8 2434.0 L1454.8 2540.3 L1471.0 2540.3" fill="none" stroke-width="7.5" stroke-linejoin="round" stroke-linecap="butt"/>
<line x1="1471.5" y1="2421.0" x2="1471.5" y2="2553.0" stroke-width="7" stroke-linecap="butt"/>
<line x1="1482.6" y1="2423.0" x2="1482.6" y2="2550.0" stroke-width="6" stroke-linecap="butt"/>
<line x1="1527.0" y1="2482.0" x2="1578.0" y2="2482.0" stroke-width="8.4" stroke-linecap="butt"/>
<line x1="1433.0" y1="2482.3" x2="1733.0" y2="2480.4" stroke-width="3" stroke-linecap="butt"/>
<line x1="1814.0" y1="2479.8" x2="2217.0" y2="2477.1" stroke-width="3" stroke-linecap="butt"/>
<line x1="2284.5" y1="2476.8" x2="2820.5" y2="2474.4" stroke-width="3" stroke-linecap="butt"/>
<line x1="2888.0" y1="2474.1" x2="3141.0" y2="2473.0" stroke-width="3" stroke-linecap="butt"/>
<circle cx="1771.5" cy="2480.5" r="2.5" fill="#000" stroke-width="0"/>
<circle cx="2242.0" cy="2478.0" r="2.5" fill="#000" stroke-width="0"/>
<circle cx="2851.5" cy="2474.0" r="2.5" fill="#000" stroke-width="0"/>
<circle cx="1632.6" cy="2482.0" r="15.5" fill="none" stroke-width="7"/>
<line x1="1633.0" y1="2452.0" x2="1635.0" y2="2528.5" stroke-width="3" stroke-linecap="butt"/>
<line x1="1865.0" y1="2425.0" x2="1865.0" y2="2543.0" stroke-width="3" stroke-linecap="butt" stroke-dasharray="30 12"/>
<line x1="1894.0" y1="2425.0" x2="1894.0" y2="2543.0" stroke-width="3" stroke-linecap="butt" stroke-dasharray="30 12"/>
<line x1="1878.0" y1="2389.0" x2="1878.5" y2="2565.5" stroke-width="3" stroke-linecap="butt"/>
<path d="M1949.0 2433.0 L2022.0 2433.0 L2022.0 2459.0 L1949.0 2459.0 Z" fill="none" stroke-width="6" stroke-linejoin="round" stroke-linecap="butt"/>
<path d="M1949.0 2510.0 L2022.0 2510.0 L2022.0 2531.5 L1949.0 2531.5 Z" fill="none" stroke-width="6" stroke-linejoin="round" stroke-linecap="butt"/>
<line x1="2022.0" y1="2434.5" x2="2190.0" y2="2435.0" stroke-width="3" stroke-linecap="butt"/>
<line x1="2022.0" y1="2531.0" x2="2190.0" y2="2531.0" stroke-width="3" stroke-linecap="butt"/>
<line x1="2171.5" y1="2357.0" x2="2172.0" y2="2459.0" stroke-width="3" stroke-linecap="butt"/>
<line x1="2172.0" y1="2508.5" x2="2172.0" y2="2600.0" stroke-width="3" stroke-linecap="butt"/>
<line x1="2164.0" y1="2428.0" x2="2180.0" y2="2412.0" stroke-width="3" stroke-linecap="butt"/>
<line x1="2164.0" y1="2443.0" x2="2180.0" y2="2427.0" stroke-width="3" stroke-linecap="butt"/>
<line x1="2164.0" y1="2539.0" x2="2180.0" y2="2523.0" stroke-width="3" stroke-linecap="butt"/>
<line x1="2164.0" y1="2552.0" x2="2180.0" y2="2536.0" stroke-width="3" stroke-linecap="butt"/>
<text x="0" y="0" font-size="35.6" textLength="56.4" lengthAdjust="spacingAndGlyphs" style="stroke-width:0.80px;" transform="translate(2162.0 2398.0) rotate(-90) skewX(-10)">30</text>
<text x="0" y="0" font-size="35.6" textLength="51.4" lengthAdjust="spacingAndGlyphs" style="stroke-width:0.80px;" transform="translate(2162.0 2612.0) rotate(-90) skewX(-10)">30</text>
<text x="0" y="0" font-size="50.3" textLength="108.9" lengthAdjust="spacingAndGlyphs" style="stroke-width:0.80px;" transform="translate(1736.0 2617.0) rotate(0) skewX(-10)">М42</text>
<line x1="1724.0" y1="2634.0" x2="1862.0" y2="2634.0" stroke-width="4" stroke-linecap="butt"/>
<line x1="1862.0" y1="2634.0" x2="1948.0" y2="2459.0" stroke-width="3" stroke-linecap="butt"/>
<line x1="1862.0" y1="2634.0" x2="1948.0" y2="2531.5" stroke-width="3" stroke-linecap="butt"/>
<circle cx="2346.5" cy="2447.5" r="7.5" fill="#000" stroke-width="0"/>
<circle cx="2346.5" cy="2477.5" r="7.5" fill="#000" stroke-width="0"/>
<circle cx="2346.5" cy="2512.0" r="7.5" fill="#000" stroke-width="0"/>
<line x1="2354.5" y1="2447.0" x2="2483.0" y2="2447.0" stroke-width="3" stroke-linecap="butt"/>
<line x1="2327.5" y1="2511.5" x2="2482.0" y2="2511.0" stroke-width="3" stroke-linecap="butt"/>
<line x1="2473.5" y1="2427.5" x2="2473.5" y2="2529.0" stroke-width="3" stroke-linecap="butt"/>
<line x1="2465.5" y1="2455.0" x2="2481.5" y2="2439.0" stroke-width="3" stroke-linecap="butt"/>
<line x1="2465.5" y1="2485.0" x2="2481.5" y2="2469.0" stroke-width="3" stroke-linecap="butt"/>
<line x1="2465.5" y1="2519.0" x2="2481.5" y2="2503.0" stroke-width="3" stroke-linecap="butt"/>
<text x="0" y="0" font-size="35.6" textLength="106.4" lengthAdjust="spacingAndGlyphs" style="stroke-width:0.80px;" transform="translate(2526.0 2531.0) rotate(-90) skewX(-10)">95·95·45</text>
<line x1="2562.5" y1="2413.0" x2="2562.5" y2="2535.0" stroke-width="7" stroke-linecap="butt"/>
<line x1="2660.0" y1="2412.0" x2="2660.0" y2="2534.0" stroke-width="7" stroke-linecap="butt"/>
<line x1="2777.0" y1="2411.0" x2="2777.0" y2="2533.0" stroke-width="7" stroke-linecap="butt"/>
<path d="M2565.0 2427.5 L2578.5 2427.5 L2578.5 2527.0 L2565.0 2527.0" fill="none" stroke-width="3" stroke-linejoin="miter" stroke-linecap="butt" stroke-dasharray="26 8"/>
<line x1="3061.3" y1="2409.0" x2="3061.3" y2="2535.0" stroke-width="7.5" stroke-linecap="butt"/>
<line x1="3112.9" y1="2408.0" x2="3112.9" y2="2534.0" stroke-width="7.5" stroke-linecap="butt"/>
<line x1="3067.0" y1="2432.3" x2="3125.0" y2="2432.3" stroke-width="11.6" stroke-linecap="round"/>
<line x1="3061.0" y1="2510.3" x2="3133.5" y2="2510.3" stroke-width="12" stroke-linecap="butt"/>
<path d="M3113.0 2449.7 L3093.0 2449.7 L3093.0 2493.5 L3113.0 2493.5" fill="none" stroke-width="7.5" stroke-linejoin="miter" stroke-linecap="butt"/>
<path d="M2990.0 2472.0 L3015.0 2471.5 L3034.0 2466.0" fill="none" stroke-width="8" stroke-linejoin="round" stroke-linecap="butt"/>
<circle cx="2947.7" cy="2472.3" r="14.5" fill="none" stroke-width="6.5"/>
<line x1="2947.7" y1="2441.0" x2="2948.5" y2="2507.5" stroke-width="3.5" stroke-linecap="butt"/>
<line x1="3113.0" y1="2408.0" x2="3324.0" y2="2408.5" stroke-width="3" stroke-linecap="butt"/>
<line x1="3113.0" y1="2530.3" x2="3331.0" y2="2530.0" stroke-width="3" stroke-linecap="butt"/>
<line x1="3302.5" y1="2395.0" x2="3305.0" y2="2546.5" stroke-width="3" stroke-linecap="butt"/>
<line x1="3293.8" y1="2417.5" x2="3311.8" y2="2399.5" stroke-width="3" stroke-linecap="butt"/>
<line x1="3295.8" y1="2539.0" x2="3313.8" y2="2521.0" stroke-width="3" stroke-linecap="butt"/>
<text x="0" y="0" font-size="50.4" textLength="77.9" lengthAdjust="spacingAndGlyphs" style="stroke-width:0.80px;" transform="translate(3293.0 2507.0) rotate(-90) skewX(-10)">400</text>
<text x="0" y="0" font-size="64.2" textLength="98.5" lengthAdjust="spacingAndGlyphs" style="stroke-width:0.80px;font-weight:bold;" transform="translate(1883.0 2750.0) rotate(0) skewX(-10)">2-2</text>
<line x1="1871.0" y1="2764.0" x2="1988.0" y2="2764.0" stroke-width="7" stroke-linecap="round"/>
<path d="M1846.0 2812.5 L2024.0 2812.5 L2028.0 2991.0 L1846.0 2991.0 Z" fill="none" stroke-width="8.5" stroke-linejoin="miter" stroke-linecap="butt"/>
<line x1="1850.0" y1="2866.0" x2="1892.0" y2="2822.0" stroke-width="3" stroke-linecap="butt"/>
<line x1="1866.0" y1="2911.0" x2="1951.5" y2="2818.0" stroke-width="3" stroke-linecap="butt"/>
<line x1="1855.0" y1="2987.5" x2="2011.0" y2="2819.5" stroke-width="3" stroke-linecap="butt"/>
<line x1="1902.5" y1="2987.5" x2="2021.0" y2="2867.0" stroke-width="3" stroke-linecap="butt"/>
<line x1="1953.0" y1="2987.5" x2="2021.0" y2="2916.5" stroke-width="3" stroke-linecap="butt"/>
<line x1="2001.0" y1="2987.0" x2="2021.0" y2="2964.0" stroke-width="3" stroke-linecap="butt"/>
<line x1="1724.0" y1="2793.5" x2="1721.0" y2="3013.5" stroke-width="3" stroke-linecap="butt"/>
<line x1="1697.0" y1="2810.0" x2="1846.0" y2="2810.0" stroke-width="3" stroke-linecap="butt"/>
<line x1="1694.0" y1="2992.5" x2="1846.0" y2="2992.5" stroke-width="3" stroke-linecap="butt"/>
<line x1="1713.5" y1="2820.0" x2="1733.5" y2="2800.0" stroke-width="3" stroke-linecap="butt"/>
<line x1="1711.5" y1="3002.5" x2="1731.5" y2="2982.5" stroke-width="3" stroke-linecap="butt"/>
<text x="0" y="0" font-size="51.6" textLength="81.8" lengthAdjust="spacingAndGlyphs" style="stroke-width:0.80px;" transform="translate(1717.0 2934.0) rotate(-90) skewX(-10)">400</text>
<line x1="1844.0" y1="2991.0" x2="1844.0" y2="3142.0" stroke-width="3" stroke-linecap="butt"/>
<line x1="2031.0" y1="2991.0" x2="2031.0" y2="3135.0" stroke-width="3" stroke-linecap="butt"/>
<line x1="1826.0" y1="3115.0" x2="2057.0" y2="3115.0" stroke-width="3" stroke-linecap="butt"/>
<line x1="1834.0" y1="3125.0" x2="1854.0" y2="3105.0" stroke-width="3" stroke-linecap="butt"/>
<line x1="2021.0" y1="3125.0" x2="2041.0" y2="3105.0" stroke-width="3" stroke-linecap="butt"/>
<text x="0" y="0" font-size="54.5" textLength="82.5" lengthAdjust="spacingAndGlyphs" style="stroke-width:0.80px;" transform="translate(1902.5 3102.0) rotate(0) skewX(-10)">400</text>
</svg>
</body></html>
